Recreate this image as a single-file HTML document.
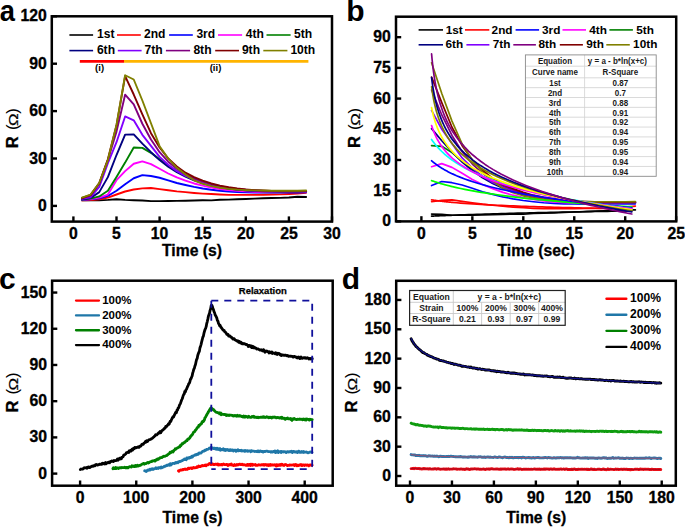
<!DOCTYPE html>
<html><head><meta charset="utf-8"><style>
html,body{margin:0;padding:0;background:#fff;width:685px;height:527px;overflow:hidden;}
svg{display:block;font-family:"Liberation Sans",sans-serif;}
</style></head><body>
<svg width="685" height="527" viewBox="0 0 685 527" font-family="Liberation Sans, sans-serif">
<rect width="685" height="527" fill="#fff"/>
<g>
<polyline points="82.02,200.37 90.64,200.37 99.26,200.21 107.88,199.9 116.5,199.26 125.12,199.9 133.74,200.21 142.36,200.53 150.98,201.16 159.6,201.16 168.22,201 176.84,200.84 185.46,200.69 194.08,200.53 202.7,200.21 211.32,200.37 219.94,199.74 228.56,199.58 237.18,199.26 245.8,198.95 254.42,198.63 263.04,198.32 271.66,198 280.28,197.84 288.9,197.53 297.52,196.74 306.14,197.05" fill="none" stroke="#000000" stroke-width="1.9" stroke-linejoin="round" stroke-linecap="round"/>
<polyline points="82.02,200.37 90.64,200.05 99.26,199.26 107.88,197.53 116.5,194.52 125.12,191.52 133.74,189.47 142.36,188.36 150.98,188.05 159.6,189.15 168.22,190.26 176.84,191.36 185.46,192.15 194.08,192.94 202.7,193.58 211.32,194.05 219.94,194.52 228.56,194.84 237.18,194.84 245.8,194.84 254.42,194.84 263.04,194.68 271.66,194.52 280.28,194.37 288.9,194.05 297.52,193.58 306.14,192.79" fill="none" stroke="#ff0000" stroke-width="1.9" stroke-linejoin="round" stroke-linecap="round"/>
<polyline points="82.02,200.05 90.64,199.26 99.26,198.32 107.88,195.95 116.5,190.73 125.12,184.25 133.74,178.25 142.36,175.09 150.98,176.04 159.6,177.78 168.22,180.3 176.84,182.99 185.46,185.04 194.08,186.94 202.7,188.52 211.32,189.78 219.94,190.73 228.56,191.52 237.18,192 245.8,192.31 254.42,192.47 263.04,192.63 271.66,192.63 280.28,192.63 288.9,192.47 297.52,192.47 306.14,192.31" fill="none" stroke="#0000ff" stroke-width="1.9" stroke-linejoin="round" stroke-linecap="round"/>
<polyline points="82.02,199.58 90.64,198.95 99.26,197.68 107.88,194.52 116.5,180.15 125.12,171.14 133.74,163.71 142.36,161.34 150.98,164.19 159.6,168.77 168.22,173.51 176.84,177.46 185.46,180.62 194.08,183.46 202.7,185.68 211.32,187.57 219.94,188.99 228.56,190.1 237.18,190.89 245.8,191.36 254.42,191.68 263.04,191.84 271.66,191.84 280.28,192 288.9,192 297.52,191.84 306.14,191.68" fill="none" stroke="#ff00ff" stroke-width="1.9" stroke-linejoin="round" stroke-linecap="round"/>
<polyline points="82.02,199.58 90.64,198.63 99.26,196.42 107.88,190.73 116.5,176.99 125.12,162.61 133.74,147.44 142.36,147.91 150.98,152.81 159.6,159.29 168.22,165.61 176.84,171.14 185.46,175.56 194.08,179.04 202.7,182.2 211.32,184.73 219.94,186.94 228.56,188.52 237.18,189.63 245.8,190.42 254.42,190.89 263.04,191.21 271.66,191.36 280.28,191.52 288.9,191.52 297.52,191.52 306.14,191.36" fill="none" stroke="#008000" stroke-width="1.9" stroke-linejoin="round" stroke-linecap="round"/>
<polyline points="82.02,199.26 90.64,198 99.26,192.15 107.88,177.14 116.5,155.02 125.12,134.64 133.74,134.33 142.36,143.65 150.98,152.18 159.6,160.08 168.22,166.72 176.84,172.25 185.46,176.67 194.08,180.3 202.7,183.15 211.32,185.52 219.94,187.26 228.56,188.52 237.18,189.47 245.8,190.26 254.42,190.73 263.04,191.05 271.66,191.36 280.28,191.52 288.9,191.52 297.52,191.52 306.14,191.36" fill="none" stroke="#000080" stroke-width="1.9" stroke-linejoin="round" stroke-linecap="round"/>
<polyline points="82.02,198.79 90.64,197.21 99.26,186.94 107.88,163.24 116.5,142.23 125.12,116.47 133.74,120.26 142.36,134.8 150.98,145.86 159.6,156.92 168.22,164.82 176.84,171.14 185.46,175.88 194.08,179.36 202.7,182.2 211.32,184.57 219.94,186.47 228.56,187.89 237.18,189.15 245.8,189.94 254.42,190.57 263.04,191.05 271.66,191.21 280.28,191.36 288.9,191.36 297.52,191.36 306.14,191.21" fill="none" stroke="#8000ff" stroke-width="1.9" stroke-linejoin="round" stroke-linecap="round"/>
<polyline points="82.02,198.32 90.64,195.63 99.26,183.78 107.88,160.08 116.5,131.64 125.12,94.67 133.74,104.46 142.36,123.74 150.98,139.54 159.6,152.18 168.22,161.66 176.84,168.77 185.46,174.3 194.08,178.25 202.7,181.41 211.32,184.1 219.94,186.15 228.56,187.73 237.18,188.99 245.8,189.78 254.42,190.42 263.04,190.89 271.66,191.05 280.28,191.21 288.9,191.21 297.52,191.21 306.14,191.05" fill="none" stroke="#800080" stroke-width="1.9" stroke-linejoin="round" stroke-linecap="round"/>
<polyline points="82.02,198 90.64,194.84 99.26,182.99 107.88,159.29 116.5,125.32 125.12,76.18 133.74,94.51 142.36,114.26 150.98,133.22 159.6,147.44 168.22,158.5 176.84,166.4 185.46,172.72 194.08,177.14 202.7,180.62 211.32,183.46 219.94,185.68 228.56,187.26 237.18,188.52 245.8,189.47 254.42,190.1 263.04,190.57 271.66,190.89 280.28,191.05 288.9,191.05 297.52,191.05 306.14,190.89" fill="none" stroke="#800000" stroke-width="1.9" stroke-linejoin="round" stroke-linecap="round"/>
<polyline points="82.02,197.68 90.64,194.52 99.26,182.99 107.88,160.08 116.5,125 125.12,75.23 133.74,79.5 142.36,100.51 150.98,123.27 159.6,146.18 168.22,158.66 176.84,167.82 185.46,174.62 194.08,180.3 202.7,183.78 211.32,186.15 219.94,187.73 228.56,188.84 237.18,189.63 245.8,190.1 254.42,190.42 263.04,190.57 271.66,190.73 280.28,190.73 288.9,190.73 297.52,190.73 306.14,190.57" fill="none" stroke="#808000" stroke-width="1.9" stroke-linejoin="round" stroke-linecap="round"/>
</g>
<line x1="73.4" y1="221.6" x2="73.4" y2="216.4" stroke="#000" stroke-width="2.4"/>
<text x="73.4" y="238.8" font-size="16.5" text-anchor="middle" font-weight="bold" stroke="#000" stroke-width="0.35" textLength="8.76" lengthAdjust="spacingAndGlyphs">0</text>
<line x1="116.5" y1="221.6" x2="116.5" y2="216.4" stroke="#000" stroke-width="2.4"/>
<text x="116.5" y="238.8" font-size="16.5" text-anchor="middle" font-weight="bold" stroke="#000" stroke-width="0.35" textLength="8.76" lengthAdjust="spacingAndGlyphs">5</text>
<line x1="159.6" y1="221.6" x2="159.6" y2="216.4" stroke="#000" stroke-width="2.4"/>
<text x="159.6" y="238.8" font-size="16.5" text-anchor="middle" font-weight="bold" stroke="#000" stroke-width="0.35" textLength="17.53" lengthAdjust="spacingAndGlyphs">10</text>
<line x1="202.7" y1="221.6" x2="202.7" y2="216.4" stroke="#000" stroke-width="2.4"/>
<text x="202.7" y="238.8" font-size="16.5" text-anchor="middle" font-weight="bold" stroke="#000" stroke-width="0.35" textLength="17.53" lengthAdjust="spacingAndGlyphs">15</text>
<line x1="245.8" y1="221.6" x2="245.8" y2="216.4" stroke="#000" stroke-width="2.4"/>
<text x="245.8" y="238.8" font-size="16.5" text-anchor="middle" font-weight="bold" stroke="#000" stroke-width="0.35" textLength="17.53" lengthAdjust="spacingAndGlyphs">20</text>
<line x1="288.9" y1="221.6" x2="288.9" y2="216.4" stroke="#000" stroke-width="2.4"/>
<text x="288.9" y="238.8" font-size="16.5" text-anchor="middle" font-weight="bold" stroke="#000" stroke-width="0.35" textLength="17.53" lengthAdjust="spacingAndGlyphs">25</text>
<line x1="332" y1="221.6" x2="332" y2="216.4" stroke="#000" stroke-width="2.4"/>
<text x="332" y="238.8" font-size="16.5" text-anchor="middle" font-weight="bold" stroke="#000" stroke-width="0.35" textLength="17.53" lengthAdjust="spacingAndGlyphs">30</text>
<line x1="51.8" y1="205.9" x2="57" y2="205.9" stroke="#000" stroke-width="2.4"/>
<text x="46.7" y="210.9" font-size="16.5" text-anchor="end" font-weight="bold" stroke="#000" stroke-width="0.35" textLength="8.76" lengthAdjust="spacingAndGlyphs">0</text>
<line x1="51.8" y1="158.5" x2="57" y2="158.5" stroke="#000" stroke-width="2.4"/>
<text x="46.7" y="163.5" font-size="16.5" text-anchor="end" font-weight="bold" stroke="#000" stroke-width="0.35" textLength="17.53" lengthAdjust="spacingAndGlyphs">30</text>
<line x1="51.8" y1="111.1" x2="57" y2="111.1" stroke="#000" stroke-width="2.4"/>
<text x="46.7" y="116.1" font-size="16.5" text-anchor="end" font-weight="bold" stroke="#000" stroke-width="0.35" textLength="17.53" lengthAdjust="spacingAndGlyphs">60</text>
<line x1="51.8" y1="63.7" x2="57" y2="63.7" stroke="#000" stroke-width="2.4"/>
<text x="46.7" y="68.7" font-size="16.5" text-anchor="end" font-weight="bold" stroke="#000" stroke-width="0.35" textLength="17.53" lengthAdjust="spacingAndGlyphs">90</text>
<line x1="51.8" y1="16.3" x2="57" y2="16.3" stroke="#000" stroke-width="2.4"/>
<text x="46.7" y="21.3" font-size="16.5" text-anchor="end" font-weight="bold" stroke="#000" stroke-width="0.35" textLength="26.29" lengthAdjust="spacingAndGlyphs">120</text>
<rect x="51.8" y="16.3" width="280.2" height="205.3" fill="none" stroke="#000" stroke-width="2.5"/>
<text x="192" y="256" font-size="15.7" text-anchor="middle" font-weight="bold" fill="#000" stroke="#000" stroke-width="0.3">Time (s)</text>
<text transform="translate(18.1,147) rotate(-90)" font-size="16.5" x="-1.2" y="0" font-weight="bold" stroke="#000" stroke-width="0.3">R</text>
<text transform="translate(18.1,147) rotate(-90)" font-size="16.5" x="16.9" y="0">(</text>
<text transform="translate(18.1,147) rotate(-90)" font-size="16.5" x="33.3" y="0">)</text>
<text transform="translate(18.1,147) rotate(-90) translate(27.3,0) scale(1.27,1)" font-size="13.3" text-anchor="middle" stroke="#000" stroke-width="0.2">&#937;</text>
<line x1="69.4" y1="35" x2="93.1" y2="35" stroke="#000000" stroke-width="1.6"/>
<text x="97.1" y="38.2" font-size="12.1" text-anchor="start" font-weight="bold" fill="#000">1st</text>
<line x1="117" y1="35" x2="140.8" y2="35" stroke="#ff0000" stroke-width="1.6"/>
<text x="144" y="38.2" font-size="12.1" text-anchor="start" font-weight="bold" fill="#000">2nd</text>
<line x1="169.1" y1="35" x2="192.8" y2="35" stroke="#0000ff" stroke-width="1.6"/>
<text x="196.4" y="38.2" font-size="12.1" text-anchor="start" font-weight="bold" fill="#000">3rd</text>
<line x1="218" y1="35" x2="242.1" y2="35" stroke="#ff00ff" stroke-width="1.6"/>
<text x="245.7" y="38.2" font-size="12.1" text-anchor="start" font-weight="bold" fill="#000">4th</text>
<line x1="266.5" y1="35" x2="290.6" y2="35" stroke="#008000" stroke-width="1.6"/>
<text x="294.1" y="38.2" font-size="12.1" text-anchor="start" font-weight="bold" fill="#000">5th</text>
<line x1="69.4" y1="50.6" x2="93.1" y2="50.6" stroke="#000080" stroke-width="1.6"/>
<text x="96.9" y="54.4" font-size="12.1" text-anchor="start" font-weight="bold" fill="#000">6th</text>
<line x1="117.8" y1="50.6" x2="141.6" y2="50.6" stroke="#8000ff" stroke-width="1.6"/>
<text x="144.6" y="54.4" font-size="12.1" text-anchor="start" font-weight="bold" fill="#000">7th</text>
<line x1="165.9" y1="50.6" x2="190.1" y2="50.6" stroke="#800080" stroke-width="1.6"/>
<text x="193.4" y="54.4" font-size="12.1" text-anchor="start" font-weight="bold" fill="#000">8th</text>
<line x1="215.2" y1="50.6" x2="239" y2="50.6" stroke="#800000" stroke-width="1.6"/>
<text x="241.9" y="54.4" font-size="12.1" text-anchor="start" font-weight="bold" fill="#000">9th</text>
<line x1="263.3" y1="50.6" x2="287.4" y2="50.6" stroke="#808000" stroke-width="1.6"/>
<text x="290.4" y="54.4" font-size="12.1" text-anchor="start" font-weight="bold" fill="#000">10th</text>
<line x1="79.8" y1="61.3" x2="124" y2="61.3" stroke="#ff0000" stroke-width="2.8"/>
<line x1="124" y1="61.3" x2="308.4" y2="61.3" stroke="#ffb400" stroke-width="2.8"/>
<text x="99.6" y="70.6" font-size="9.5" text-anchor="middle" font-weight="bold" fill="#000">(i)</text>
<text x="215.5" y="70.6" font-size="9.5" text-anchor="middle" font-weight="bold" fill="#000">(ii)</text>
<g>
<polyline points="431.59,214.03 441.78,214.44 451.97,215.26 462.16,215.26 472.35,215.05 482.54,214.85 492.73,214.64 502.92,214.44 513.11,214.03 523.3,214.24 533.49,213.42 543.68,213.21 553.87,212.8 564.06,212.39 574.25,211.98 584.44,211.57 594.63,211.16 604.82,210.96 615.01,210.55 625.2,209.53 635.39,209.94" fill="none" stroke="#000000" stroke-width="1.7" stroke-linejoin="round" stroke-linecap="round"/>
<polyline points="431.59,201.75 441.78,200.32 451.97,199.91 462.16,201.34 472.35,202.77 482.54,204.21 492.73,205.23 502.92,206.25 513.11,207.07 523.3,207.69 533.49,208.3 543.68,208.71 553.87,208.71 564.06,208.71 574.25,208.71 584.44,208.5 594.63,208.3 604.82,208.09 615.01,207.69 625.2,207.07 635.39,206.05" fill="none" stroke="#ff0000" stroke-width="1.7" stroke-linejoin="round" stroke-linecap="round"/>
<polyline points="431.59,185.58 441.78,181.48 451.97,182.71 462.16,184.96 472.35,188.24 482.54,191.72 492.73,194.38 502.92,196.84 513.11,198.88 523.3,200.52 533.49,201.75 543.68,202.77 553.87,203.39 564.06,203.8 574.25,204 584.44,204.21 594.63,204.21 604.82,204.21 615.01,204 625.2,204 635.39,203.8" fill="none" stroke="#0000ff" stroke-width="1.7" stroke-linejoin="round" stroke-linecap="round"/>
<polyline points="431.59,166.75 441.78,163.67 451.97,167.36 462.16,173.3 472.35,179.44 482.54,184.55 492.73,188.65 502.92,192.33 513.11,195.2 523.3,197.65 533.49,199.5 543.68,200.93 553.87,201.95 564.06,202.57 574.25,202.98 584.44,203.18 594.63,203.18 604.82,203.39 615.01,203.39 625.2,203.18 635.39,202.98" fill="none" stroke="#ff00ff" stroke-width="1.7" stroke-linejoin="round" stroke-linecap="round"/>
<polyline points="431.59,145.66 441.78,146.28 451.97,152.62 462.16,161.01 472.35,169.2 482.54,176.37 492.73,182.1 502.92,186.6 513.11,190.69 523.3,193.97 533.49,196.84 543.68,198.88 553.87,200.32 564.06,201.34 574.25,201.95 584.44,202.36 594.63,202.57 604.82,202.77 615.01,202.77 625.2,202.77 635.39,202.57" fill="none" stroke="#008000" stroke-width="1.7" stroke-linejoin="round" stroke-linecap="round"/>
<polyline points="431.59,128.67 441.78,140.75 451.97,151.8 462.16,162.04 472.35,170.63 482.54,177.8 492.73,183.53 502.92,188.24 513.11,191.92 523.3,194.99 533.49,197.25 543.68,198.88 553.87,200.11 564.06,201.13 574.25,201.75 584.44,202.16 594.63,202.57 604.82,202.77 615.01,202.77 625.2,202.77 635.39,202.57" fill="none" stroke="#000080" stroke-width="1.7" stroke-linejoin="round" stroke-linecap="round"/>
<polyline points="431.59,110.45 441.78,129.28 451.97,143.61 462.16,157.94 472.35,168.18 482.54,176.37 492.73,182.51 502.92,187.01 513.11,190.69 523.3,193.77 533.49,196.22 543.68,198.06 553.87,199.7 564.06,200.73 574.25,201.54 584.44,202.16 594.63,202.36 604.82,202.57 615.01,202.57 625.2,202.57 635.39,202.36" fill="none" stroke="#8000ff" stroke-width="1.7" stroke-linejoin="round" stroke-linecap="round"/>
<polyline points="431.59,89.98 441.78,114.96 451.97,135.43 462.16,151.8 472.35,164.08 482.54,173.3 492.73,180.46 502.92,185.58 513.11,189.67 523.3,193.15 533.49,195.81 543.68,197.86 553.87,199.5 564.06,200.52 574.25,201.34 584.44,201.95 594.63,202.16 604.82,202.36 615.01,202.36 625.2,202.36 635.39,202.16" fill="none" stroke="#800080" stroke-width="1.7" stroke-linejoin="round" stroke-linecap="round"/>
<polyline points="431.59,77.09 441.78,102.67 451.97,127.24 462.16,145.66 472.35,159.99 482.54,170.22 492.73,178.41 502.92,184.14 513.11,188.65 523.3,192.33 533.49,195.2 543.68,197.25 553.87,198.88 564.06,200.11 574.25,200.93 584.44,201.54 594.63,201.95 604.82,202.16 615.01,202.16 625.2,202.16 635.39,201.95" fill="none" stroke="#800000" stroke-width="1.7" stroke-linejoin="round" stroke-linecap="round"/>
<polyline points="431.59,62.76 441.78,93.46 451.97,121.1 462.16,144.02 472.35,160.19 482.54,172.07 492.73,180.87 502.92,188.24 513.11,192.74 523.3,195.81 533.49,197.86 543.68,199.29 553.87,200.32 564.06,200.93 574.25,201.34 584.44,201.54 594.63,201.75 604.82,201.75 615.01,201.75 625.2,201.75 635.39,201.54" fill="none" stroke="#808000" stroke-width="1.7" stroke-linejoin="round" stroke-linecap="round"/>
<polyline points="431.59,216.13 432.1,216.11 432.61,216.08 433.12,216.06 433.63,216.04 434.14,216.01 434.65,215.99 435.16,215.97 435.67,215.95 436.18,215.92 436.69,215.9 437.19,215.88 437.7,215.86 438.21,215.84 438.72,215.81 439.23,215.79 439.74,215.77 440.25,215.75 440.76,215.73 441.27,215.7 441.78,215.68 442.29,215.66 442.8,215.64 443.31,215.62 443.82,215.6 444.33,215.58 444.84,215.56 445.35,215.53 445.86,215.51 446.37,215.49 446.87,215.47 447.38,215.45 447.89,215.43 448.4,215.41 448.91,215.39 449.42,215.37 449.93,215.35 450.44,215.33 450.95,215.31 451.46,215.29 451.97,215.27 452.48,215.25 456.56,215.1 460.63,214.95 464.71,214.8 468.78,214.66 472.86,214.52 476.94,214.38 481.01,214.25 485.09,214.12 489.16,214 493.24,213.88 497.32,213.76 501.39,213.64 505.47,213.53 509.54,213.41 513.62,213.31 517.7,213.2 521.77,213.09 525.85,212.99 529.92,212.89 534,212.79 538.08,212.7 542.15,212.6 546.23,212.51 550.3,212.42 554.38,212.33 558.46,212.24 562.53,212.15 566.61,212.06 570.68,211.98 574.76,211.9 578.84,211.82 582.91,211.74 586.99,211.66 591.06,211.58 595.14,211.5 599.22,211.43 603.29,211.35 607.37,211.28 611.44,211.21 615.52,211.14 619.6,211.07 623.67,211 627.75,210.93 631.82,210.86" fill="none" stroke="#000000" stroke-width="1.7" stroke-linejoin="round" stroke-linecap="round"/>
<polyline points="431.59,199.79 432.1,199.88 432.61,199.97 433.12,200.05 433.63,200.13 434.14,200.22 434.65,200.29 435.16,200.37 435.67,200.45 436.18,200.52 436.69,200.6 437.19,200.67 437.7,200.74 438.21,200.81 438.72,200.88 439.23,200.95 439.74,201.01 440.25,201.08 440.76,201.14 441.27,201.21 441.78,201.27 442.29,201.33 442.8,201.39 443.31,201.45 443.82,201.51 444.33,201.57 444.84,201.62 445.35,201.68 445.86,201.74 446.37,201.79 446.87,201.84 447.38,201.9 447.89,201.95 448.4,202 448.91,202.05 449.42,202.1 449.93,202.15 450.44,202.2 450.95,202.25 451.46,202.3 451.97,202.35 452.48,202.4 456.56,202.76 460.63,203.09 464.71,203.39 468.78,203.67 472.86,203.94 476.94,204.19 481.01,204.43 485.09,204.65 489.16,204.86 493.24,205.06 497.32,205.25 501.39,205.43 505.47,205.61 509.54,205.77 513.62,205.94 517.7,206.09 521.77,206.24 525.85,206.38 529.92,206.52 534,206.66 538.08,206.79 542.15,206.91 546.23,207.04 550.3,207.15 554.38,207.27 558.46,207.38 562.53,207.49 566.61,207.6 570.68,207.7 574.76,207.8 578.84,207.9 582.91,208 586.99,208.09 591.06,208.18 595.14,208.27 599.22,208.36 603.29,208.45 607.37,208.53 611.44,208.61 615.52,208.7 619.6,208.78 623.67,208.85 627.75,208.93 631.82,209" fill="none" stroke="#ff0000" stroke-width="1.7" stroke-linejoin="round" stroke-linecap="round"/>
<polyline points="431.59,180.59 432.1,180.77 432.61,180.95 433.12,181.13 433.63,181.3 434.14,181.48 434.65,181.65 435.16,181.82 435.67,181.99 436.18,182.15 436.69,182.32 437.19,182.48 437.7,182.64 438.21,182.8 438.72,182.95 439.23,183.11 439.74,183.26 440.25,183.42 440.76,183.57 441.27,183.72 441.78,183.86 442.29,184.01 442.8,184.16 443.31,184.3 443.82,184.44 444.33,184.58 444.84,184.72 445.35,184.86 445.86,185 446.37,185.13 446.87,185.27 447.38,185.4 447.89,185.53 448.4,185.66 448.91,185.79 449.42,185.92 449.93,186.05 450.44,186.18 450.95,186.3 451.46,186.43 451.97,186.55 452.48,186.67 456.56,187.62 460.63,188.51 464.71,189.34 468.78,190.14 472.86,190.89 476.94,191.61 481.01,192.3 485.09,192.95 489.16,193.58 493.24,194.18 497.32,194.76 501.39,195.32 505.47,195.85 509.54,196.37 513.62,196.87 517.7,197.36 521.77,197.83 525.85,198.29 529.92,198.73 534,199.16 538.08,199.57 542.15,199.98 546.23,200.38 550.3,200.76 554.38,201.14 558.46,201.5 562.53,201.86 566.61,202.21 570.68,202.55 574.76,202.88 578.84,203.21 582.91,203.53 586.99,203.84 591.06,204.15 595.14,204.45 599.22,204.74 603.29,205.03 607.37,205.31 611.44,205.59 615.52,205.87 619.6,206.13 623.67,206.4 627.75,206.66 631.82,206.91" fill="none" stroke="#00ff00" stroke-width="1.7" stroke-linejoin="round" stroke-linecap="round"/>
<polyline points="431.59,160.77 432.1,161.21 432.61,161.64 433.12,162.06 433.63,162.47 434.14,162.88 434.65,163.28 435.16,163.67 435.67,164.05 436.18,164.43 436.69,164.8 437.19,165.16 437.7,165.52 438.21,165.87 438.72,166.21 439.23,166.55 439.74,166.89 440.25,167.22 440.76,167.54 441.27,167.86 441.78,168.18 442.29,168.49 442.8,168.79 443.31,169.09 443.82,169.39 444.33,169.68 444.84,169.97 445.35,170.26 445.86,170.54 446.37,170.82 446.87,171.09 447.38,171.36 447.89,171.63 448.4,171.89 448.91,172.15 449.42,172.41 449.93,172.66 450.44,172.91 450.95,173.16 451.46,173.41 451.97,173.65 452.48,173.89 456.56,175.72 460.63,177.4 464.71,178.95 468.78,180.4 472.86,181.76 476.94,183.03 481.01,184.24 485.09,185.37 489.16,186.45 493.24,187.48 497.32,188.46 501.39,189.4 505.47,190.29 509.54,191.15 513.62,191.98 517.7,192.77 521.77,193.54 525.85,194.28 529.92,194.99 534,195.68 538.08,196.35 542.15,197 546.23,197.63 550.3,198.24 554.38,198.84 558.46,199.41 562.53,199.98 566.61,200.53 570.68,201.06 574.76,201.58 578.84,202.09 582.91,202.58 586.99,203.07 591.06,203.54 595.14,204.01 599.22,204.46 603.29,204.9 607.37,205.34 611.44,205.77 615.52,206.18 619.6,206.59 623.67,207 627.75,207.39 631.82,207.78" fill="none" stroke="#0000ff" stroke-width="1.7" stroke-linejoin="round" stroke-linecap="round"/>
<polyline points="431.59,139.49 432.1,140.22 432.61,140.94 433.12,141.65 433.63,142.33 434.14,143 434.65,143.65 435.16,144.29 435.67,144.92 436.18,145.53 436.69,146.13 437.19,146.71 437.7,147.29 438.21,147.85 438.72,148.4 439.23,148.95 439.74,149.48 440.25,150 440.76,150.51 441.27,151.02 441.78,151.51 442.29,152 442.8,152.48 443.31,152.95 443.82,153.41 444.33,153.87 444.84,154.32 445.35,154.76 445.86,155.19 446.37,155.62 446.87,156.04 447.38,156.46 447.89,156.87 448.4,157.27 448.91,157.67 449.42,158.07 449.93,158.45 450.44,158.84 450.95,159.21 451.46,159.59 451.97,159.96 452.48,160.32 456.56,163.07 460.63,165.58 464.71,167.89 468.78,170.02 472.86,172.01 476.94,173.87 481.01,175.61 485.09,177.26 489.16,178.81 493.24,180.29 497.32,181.69 501.39,183.03 505.47,184.31 509.54,185.53 513.62,186.7 517.7,187.83 521.77,188.91 525.85,189.96 529.92,190.97 534,191.94 538.08,192.88 542.15,193.79 546.23,194.68 550.3,195.53 554.38,196.37 558.46,197.18 562.53,197.96 566.61,198.73 570.68,199.47 574.76,200.2 578.84,200.91 582.91,201.6 586.99,202.27 591.06,202.93 595.14,203.58 599.22,204.21 603.29,204.83 607.37,205.43 611.44,206.02 615.52,206.6 619.6,207.17 623.67,207.73 627.75,208.27 631.82,208.81" fill="none" stroke="#00ffff" stroke-width="1.7" stroke-linejoin="round" stroke-linecap="round"/>
<polyline points="431.59,125.5 432.1,127.07 432.61,128.55 433.12,129.95 433.63,131.28 434.14,132.54 434.65,133.74 435.16,134.89 435.67,135.99 436.18,137.05 436.69,138.06 437.19,139.04 437.7,139.98 438.21,140.88 438.72,141.76 439.23,142.6 439.74,143.42 440.25,144.21 440.76,144.98 441.27,145.73 441.78,146.46 442.29,147.16 442.8,147.85 443.31,148.52 443.82,149.17 444.33,149.81 444.84,150.43 445.35,151.04 445.86,151.63 446.37,152.21 446.87,152.77 447.38,153.33 447.89,153.87 448.4,154.4 448.91,154.92 449.42,155.43 449.93,155.93 450.44,156.42 450.95,156.9 451.46,157.37 451.97,157.84 452.48,158.29 456.56,161.67 460.63,164.66 464.71,167.33 468.78,169.75 472.86,171.96 476.94,174 481.01,175.88 485.09,177.64 489.16,179.29 493.24,180.83 497.32,182.29 501.39,183.67 505.47,184.98 509.54,186.22 513.62,187.41 517.7,188.54 521.77,189.63 525.85,190.67 529.92,191.68 534,192.64 538.08,193.57 542.15,194.47 546.23,195.33 550.3,196.17 554.38,196.98 558.46,197.77 562.53,198.53 566.61,199.27 570.68,199.99 574.76,200.69 578.84,201.38 582.91,202.04 586.99,202.69 591.06,203.32 595.14,203.94 599.22,204.54 603.29,205.13 607.37,205.7 611.44,206.27 615.52,206.82 619.6,207.35 623.67,207.88 627.75,208.4 631.82,208.91" fill="none" stroke="#ff00ff" stroke-width="1.7" stroke-linejoin="round" stroke-linecap="round"/>
<polyline points="431.59,107.65 432.1,110.13 432.61,112.41 433.12,114.53 433.63,116.49 434.14,118.33 434.65,120.06 435.16,121.68 435.67,123.22 436.18,124.68 436.69,126.06 437.19,127.39 437.7,128.65 438.21,129.86 438.72,131.02 439.23,132.13 439.74,133.2 440.25,134.23 440.76,135.23 441.27,136.19 441.78,137.12 442.29,138.02 442.8,138.89 443.31,139.74 443.82,140.56 444.33,141.36 444.84,142.14 445.35,142.89 445.86,143.63 446.37,144.35 446.87,145.05 447.38,145.73 447.89,146.4 448.4,147.05 448.91,147.68 449.42,148.31 449.93,148.92 450.44,149.51 450.95,150.1 451.46,150.67 451.97,151.23 452.48,151.78 456.56,155.83 460.63,159.37 464.71,162.52 468.78,165.35 472.86,167.93 476.94,170.28 481.01,172.46 485.09,174.48 489.16,176.37 493.24,178.14 497.32,179.8 501.39,181.37 505.47,182.86 509.54,184.27 513.62,185.62 517.7,186.91 521.77,188.14 525.85,189.31 529.92,190.44 534,191.53 538.08,192.58 542.15,193.59 546.23,194.56 550.3,195.51 554.38,196.42 558.46,197.3 562.53,198.16 566.61,198.99 570.68,199.8 574.76,200.58 578.84,201.35 582.91,202.09 586.99,202.81 591.06,203.52 595.14,204.21 599.22,204.88 603.29,205.54 607.37,206.18 611.44,206.81 615.52,207.43 619.6,208.03 623.67,208.62 627.75,209.19 631.82,209.76" fill="none" stroke="#ffff00" stroke-width="1.7" stroke-linejoin="round" stroke-linecap="round"/>
<polyline points="431.59,86.72 432.1,90.42 432.61,93.73 433.12,96.73 433.63,99.47 434.14,101.99 434.65,104.33 435.16,106.51 435.67,108.55 436.18,110.46 436.69,112.27 437.19,113.98 437.7,115.6 438.21,117.15 438.72,118.62 439.23,120.03 439.74,121.38 440.25,122.67 440.76,123.91 441.27,125.11 441.78,126.26 442.29,127.38 442.8,128.45 443.31,129.49 443.82,130.5 444.33,131.48 444.84,132.43 445.35,133.35 445.86,134.24 446.37,135.11 446.87,135.96 447.38,136.78 447.89,137.59 448.4,138.37 448.91,139.14 449.42,139.88 449.93,140.61 450.44,141.33 450.95,142.03 451.46,142.71 451.97,143.38 452.48,144.03 456.56,148.84 460.63,153.02 464.71,156.71 468.78,160.02 472.86,163.01 476.94,165.75 481.01,168.28 485.09,170.61 489.16,172.79 493.24,174.83 497.32,176.74 501.39,178.55 505.47,180.26 509.54,181.88 513.62,183.43 517.7,184.9 521.77,186.31 525.85,187.66 529.92,188.95 534,190.19 538.08,191.39 542.15,192.54 546.23,193.66 550.3,194.73 554.38,195.77 558.46,196.78 562.53,197.75 566.61,198.7 570.68,199.62 574.76,200.52 578.84,201.39 582.91,202.23 586.99,203.06 591.06,203.86 595.14,204.65 599.22,205.41 603.29,206.16 607.37,206.89 611.44,207.6 615.52,208.3 619.6,208.98 623.67,209.65 627.75,210.31 631.82,210.95" fill="none" stroke="#808000" stroke-width="1.7" stroke-linejoin="round" stroke-linecap="round"/>
<polyline points="431.59,77.7 432.1,81.69 432.61,85.27 433.12,88.51 433.63,91.47 434.14,94.2 434.65,96.73 435.16,99.08 435.67,101.29 436.18,103.36 436.69,105.31 437.19,107.16 437.7,108.91 438.21,110.58 438.72,112.18 439.23,113.7 439.74,115.15 440.25,116.55 440.76,117.9 441.27,119.19 441.78,120.44 442.29,121.64 442.8,122.8 443.31,123.93 443.82,125.01 444.33,126.07 444.84,127.09 445.35,128.09 445.86,129.05 446.37,130 446.87,130.91 447.38,131.8 447.89,132.67 448.4,133.52 448.91,134.35 449.42,135.15 449.93,135.94 450.44,136.71 450.95,137.47 451.46,138.21 451.97,138.93 452.48,139.64 456.56,144.83 460.63,149.35 464.71,153.34 468.78,156.91 472.86,160.15 476.94,163.11 481.01,165.84 485.09,168.36 489.16,170.72 493.24,172.92 497.32,174.99 501.39,176.94 505.47,178.79 509.54,180.54 513.62,182.21 517.7,183.8 521.77,185.33 525.85,186.78 529.92,188.18 534,189.52 538.08,190.82 542.15,192.06 546.23,193.27 550.3,194.43 554.38,195.55 558.46,196.64 562.53,197.7 566.61,198.72 570.68,199.71 574.76,200.68 578.84,201.62 582.91,202.54 586.99,203.43 591.06,204.3 595.14,205.14 599.22,205.97 603.29,206.78 607.37,207.57 611.44,208.34 615.52,209.09 619.6,209.83 623.67,210.55 627.75,211.26 631.82,211.96" fill="none" stroke="#000080" stroke-width="1.7" stroke-linejoin="round" stroke-linecap="round"/>
<polyline points="431.59,53.96 432.1,59.52 432.61,64.39 433.12,68.72 433.63,72.61 434.14,76.15 434.65,79.39 435.16,82.38 435.67,85.16 436.18,87.75 436.69,90.18 437.19,92.47 437.7,94.63 438.21,96.68 438.72,98.62 439.23,100.47 439.74,102.24 440.25,103.93 440.76,105.55 441.27,107.1 441.78,108.6 442.29,110.04 442.8,111.42 443.31,112.76 443.82,114.06 444.33,115.31 444.84,116.53 445.35,117.71 445.86,118.85 446.37,119.96 446.87,121.04 447.38,122.09 447.89,123.11 448.4,124.11 448.91,125.08 449.42,126.03 449.93,126.95 450.44,127.86 450.95,128.74 451.46,129.6 451.97,130.45 452.48,131.27 456.56,137.32 460.63,142.55 464.71,147.16 468.78,151.28 472.86,155.01 476.94,158.41 481.01,161.53 485.09,164.43 489.16,167.12 493.24,169.63 497.32,172 501.39,174.23 505.47,176.33 509.54,178.33 513.62,180.24 517.7,182.05 521.77,183.78 525.85,185.44 529.92,187.03 534,188.55 538.08,190.02 542.15,191.44 546.23,192.81 550.3,194.13 554.38,195.4 558.46,196.64 562.53,197.84 566.61,199 570.68,200.13 574.76,201.22 578.84,202.29 582.91,203.33 586.99,204.34 591.06,205.32 595.14,206.28 599.22,207.22 603.29,208.14 607.37,209.03 611.44,209.9 615.52,210.76 619.6,211.6 623.67,212.41 627.75,213.22 631.82,214" fill="none" stroke="#800080" stroke-width="1.7" stroke-linejoin="round" stroke-linecap="round"/>
</g>
<line x1="421.4" y1="221.4" x2="421.4" y2="216.2" stroke="#000" stroke-width="2.4"/>
<text x="421.4" y="238.8" font-size="16.5" text-anchor="middle" font-weight="bold" stroke="#000" stroke-width="0.35" textLength="8.76" lengthAdjust="spacingAndGlyphs">0</text>
<line x1="472.35" y1="221.4" x2="472.35" y2="216.2" stroke="#000" stroke-width="2.4"/>
<text x="472.35" y="238.8" font-size="16.5" text-anchor="middle" font-weight="bold" stroke="#000" stroke-width="0.35" textLength="8.76" lengthAdjust="spacingAndGlyphs">5</text>
<line x1="523.3" y1="221.4" x2="523.3" y2="216.2" stroke="#000" stroke-width="2.4"/>
<text x="523.3" y="238.8" font-size="16.5" text-anchor="middle" font-weight="bold" stroke="#000" stroke-width="0.35" textLength="17.53" lengthAdjust="spacingAndGlyphs">10</text>
<line x1="574.25" y1="221.4" x2="574.25" y2="216.2" stroke="#000" stroke-width="2.4"/>
<text x="574.25" y="238.8" font-size="16.5" text-anchor="middle" font-weight="bold" stroke="#000" stroke-width="0.35" textLength="17.53" lengthAdjust="spacingAndGlyphs">15</text>
<line x1="625.2" y1="221.4" x2="625.2" y2="216.2" stroke="#000" stroke-width="2.4"/>
<text x="625.2" y="238.8" font-size="16.5" text-anchor="middle" font-weight="bold" stroke="#000" stroke-width="0.35" textLength="17.53" lengthAdjust="spacingAndGlyphs">20</text>
<line x1="676.15" y1="221.4" x2="676.15" y2="216.2" stroke="#000" stroke-width="2.4"/>
<text x="676.15" y="238.8" font-size="16.5" text-anchor="middle" font-weight="bold" stroke="#000" stroke-width="0.35" textLength="17.53" lengthAdjust="spacingAndGlyphs">25</text>
<line x1="396" y1="221.4" x2="401.2" y2="221.4" stroke="#000" stroke-width="2.4"/>
<text x="390.9" y="226.4" font-size="16.5" text-anchor="end" font-weight="bold" stroke="#000" stroke-width="0.35" textLength="8.76" lengthAdjust="spacingAndGlyphs">0</text>
<line x1="396" y1="190.69" x2="401.2" y2="190.69" stroke="#000" stroke-width="2.4"/>
<text x="390.9" y="195.69" font-size="16.5" text-anchor="end" font-weight="bold" stroke="#000" stroke-width="0.35" textLength="17.53" lengthAdjust="spacingAndGlyphs">15</text>
<line x1="396" y1="159.99" x2="401.2" y2="159.99" stroke="#000" stroke-width="2.4"/>
<text x="390.9" y="164.99" font-size="16.5" text-anchor="end" font-weight="bold" stroke="#000" stroke-width="0.35" textLength="17.53" lengthAdjust="spacingAndGlyphs">30</text>
<line x1="396" y1="129.28" x2="401.2" y2="129.28" stroke="#000" stroke-width="2.4"/>
<text x="390.9" y="134.28" font-size="16.5" text-anchor="end" font-weight="bold" stroke="#000" stroke-width="0.35" textLength="17.53" lengthAdjust="spacingAndGlyphs">45</text>
<line x1="396" y1="98.58" x2="401.2" y2="98.58" stroke="#000" stroke-width="2.4"/>
<text x="390.9" y="103.58" font-size="16.5" text-anchor="end" font-weight="bold" stroke="#000" stroke-width="0.35" textLength="17.53" lengthAdjust="spacingAndGlyphs">60</text>
<line x1="396" y1="67.88" x2="401.2" y2="67.88" stroke="#000" stroke-width="2.4"/>
<text x="390.9" y="72.88" font-size="16.5" text-anchor="end" font-weight="bold" stroke="#000" stroke-width="0.35" textLength="17.53" lengthAdjust="spacingAndGlyphs">75</text>
<line x1="396" y1="37.17" x2="401.2" y2="37.17" stroke="#000" stroke-width="2.4"/>
<text x="390.9" y="42.17" font-size="16.5" text-anchor="end" font-weight="bold" stroke="#000" stroke-width="0.35" textLength="17.53" lengthAdjust="spacingAndGlyphs">90</text>
<rect x="396" y="16.7" width="280.2" height="204.7" fill="none" stroke="#000" stroke-width="2.5"/>
<text x="536.2" y="256" font-size="15.7" text-anchor="middle" font-weight="bold" fill="#000" stroke="#000" stroke-width="0.3">Time (sec)</text>
<text transform="translate(360.3,146.8) rotate(-90)" font-size="16.5" x="-1.2" y="0" font-weight="bold" stroke="#000" stroke-width="0.3">R</text>
<text transform="translate(360.3,146.8) rotate(-90)" font-size="16.5" x="16.9" y="0">(</text>
<text transform="translate(360.3,146.8) rotate(-90)" font-size="16.5" x="33.3" y="0">)</text>
<text transform="translate(360.3,146.8) rotate(-90) translate(27.3,0) scale(1.27,1)" font-size="13.3" text-anchor="middle" stroke="#000" stroke-width="0.2">&#937;</text>
<line x1="418.6" y1="29.9" x2="443" y2="29.9" stroke="#000000" stroke-width="1.6"/>
<text x="445.7" y="33.5" font-size="11.8" text-anchor="start" font-weight="bold" fill="#000">1st</text>
<line x1="465" y1="29.9" x2="489.3" y2="29.9" stroke="#ff0000" stroke-width="1.6"/>
<text x="491.6" y="33.5" font-size="11.8" text-anchor="start" font-weight="bold" fill="#000">2nd</text>
<line x1="515.6" y1="29.9" x2="539.1" y2="29.9" stroke="#0000ff" stroke-width="1.6"/>
<text x="542" y="33.5" font-size="11.8" text-anchor="start" font-weight="bold" fill="#000">3rd</text>
<line x1="562.5" y1="29.9" x2="586" y2="29.9" stroke="#ff00ff" stroke-width="1.6"/>
<text x="589.3" y="33.5" font-size="11.8" text-anchor="start" font-weight="bold" fill="#000">4th</text>
<line x1="609.4" y1="29.9" x2="632.9" y2="29.9" stroke="#008000" stroke-width="1.6"/>
<text x="636.2" y="33.5" font-size="11.8" text-anchor="start" font-weight="bold" fill="#000">5th</text>
<line x1="418.6" y1="44.8" x2="443" y2="44.8" stroke="#000080" stroke-width="1.6"/>
<text x="445.5" y="48.4" font-size="11.8" text-anchor="start" font-weight="bold" fill="#000">6th</text>
<line x1="466.4" y1="44.8" x2="489.4" y2="44.8" stroke="#8000ff" stroke-width="1.6"/>
<text x="492.8" y="48.4" font-size="11.8" text-anchor="start" font-weight="bold" fill="#000">7th</text>
<line x1="513.3" y1="44.8" x2="535.9" y2="44.8" stroke="#800080" stroke-width="1.6"/>
<text x="538.5" y="48.4" font-size="11.8" text-anchor="start" font-weight="bold" fill="#000">8th</text>
<line x1="559.8" y1="44.8" x2="582.9" y2="44.8" stroke="#800000" stroke-width="1.6"/>
<text x="586.2" y="48.4" font-size="11.8" text-anchor="start" font-weight="bold" fill="#000">9th</text>
<line x1="606.3" y1="44.8" x2="629.8" y2="44.8" stroke="#808000" stroke-width="1.6"/>
<text x="633.1" y="48.4" font-size="11.8" text-anchor="start" font-weight="bold" fill="#000">10th</text>
<rect x="525.4" y="54.9" width="130.80000000000007" height="121.4" fill="#fff" stroke="none"/>
<line x1="525.4" y1="66.2" x2="656.2" y2="66.2" stroke="#d0d0d0" stroke-width="0.8"/>
<line x1="525.4" y1="77.8" x2="656.2" y2="77.8" stroke="#d0d0d0" stroke-width="0.8"/>
<line x1="525.4" y1="87.65" x2="656.2" y2="87.65" stroke="#d0d0d0" stroke-width="0.8"/>
<line x1="525.4" y1="97.5" x2="656.2" y2="97.5" stroke="#d0d0d0" stroke-width="0.8"/>
<line x1="525.4" y1="107.35" x2="656.2" y2="107.35" stroke="#d0d0d0" stroke-width="0.8"/>
<line x1="525.4" y1="117.2" x2="656.2" y2="117.2" stroke="#d0d0d0" stroke-width="0.8"/>
<line x1="525.4" y1="127.05" x2="656.2" y2="127.05" stroke="#d0d0d0" stroke-width="0.8"/>
<line x1="525.4" y1="136.9" x2="656.2" y2="136.9" stroke="#d0d0d0" stroke-width="0.8"/>
<line x1="525.4" y1="146.75" x2="656.2" y2="146.75" stroke="#d0d0d0" stroke-width="0.8"/>
<line x1="525.4" y1="156.6" x2="656.2" y2="156.6" stroke="#d0d0d0" stroke-width="0.8"/>
<line x1="525.4" y1="166.45" x2="656.2" y2="166.45" stroke="#d0d0d0" stroke-width="0.8"/>
<line x1="584.6" y1="54.9" x2="584.6" y2="176.3" stroke="#d0d0d0" stroke-width="0.8"/>
<rect x="525.4" y="54.9" width="130.80000000000007" height="121.4" fill="none" stroke="#8a8a8a" stroke-width="0.9"/>
<text x="555" y="63.85" font-size="9" text-anchor="middle" font-weight="bold" fill="#1a1a1a" textLength="34.22" lengthAdjust="spacingAndGlyphs">Equation</text>
<text x="617.4" y="63.85" font-size="9" text-anchor="middle" font-weight="bold" fill="#1a1a1a" textLength="59.13" lengthAdjust="spacingAndGlyphs">y = a - b*ln(x+c)</text>
<text x="555" y="75.3" font-size="9" text-anchor="middle" font-weight="bold" fill="#1a1a1a" textLength="45.8" lengthAdjust="spacingAndGlyphs">Curve name</text>
<text x="620.4" y="75.3" font-size="9" text-anchor="middle" font-weight="bold" fill="#1a1a1a" textLength="35.56" lengthAdjust="spacingAndGlyphs">R-Square</text>
<text x="555" y="86.02" font-size="9" text-anchor="middle" font-weight="bold" fill="#1a1a1a" textLength="11.56" lengthAdjust="spacingAndGlyphs">1st</text>
<text x="620.4" y="86.02" font-size="9" text-anchor="middle" font-weight="bold" fill="#1a1a1a" textLength="15.57" lengthAdjust="spacingAndGlyphs">0.87</text>
<text x="555" y="95.87" font-size="9" text-anchor="middle" font-weight="bold" fill="#1a1a1a" textLength="14.22" lengthAdjust="spacingAndGlyphs">2nd</text>
<text x="620.4" y="95.87" font-size="9" text-anchor="middle" font-weight="bold" fill="#1a1a1a" textLength="11.12" lengthAdjust="spacingAndGlyphs">0.7</text>
<text x="555" y="105.72" font-size="9" text-anchor="middle" font-weight="bold" fill="#1a1a1a" textLength="12.45" lengthAdjust="spacingAndGlyphs">3rd</text>
<text x="620.4" y="105.72" font-size="9" text-anchor="middle" font-weight="bold" fill="#1a1a1a" textLength="15.57" lengthAdjust="spacingAndGlyphs">0.88</text>
<text x="555" y="115.57" font-size="9" text-anchor="middle" font-weight="bold" fill="#1a1a1a" textLength="12" lengthAdjust="spacingAndGlyphs">4th</text>
<text x="620.4" y="115.57" font-size="9" text-anchor="middle" font-weight="bold" fill="#1a1a1a" textLength="15.57" lengthAdjust="spacingAndGlyphs">0.91</text>
<text x="555" y="125.42" font-size="9" text-anchor="middle" font-weight="bold" fill="#1a1a1a" textLength="12" lengthAdjust="spacingAndGlyphs">5th</text>
<text x="620.4" y="125.42" font-size="9" text-anchor="middle" font-weight="bold" fill="#1a1a1a" textLength="15.57" lengthAdjust="spacingAndGlyphs">0.92</text>
<text x="555" y="135.28" font-size="9" text-anchor="middle" font-weight="bold" fill="#1a1a1a" textLength="12" lengthAdjust="spacingAndGlyphs">6th</text>
<text x="620.4" y="135.28" font-size="9" text-anchor="middle" font-weight="bold" fill="#1a1a1a" textLength="15.57" lengthAdjust="spacingAndGlyphs">0.94</text>
<text x="555" y="145.12" font-size="9" text-anchor="middle" font-weight="bold" fill="#1a1a1a" textLength="12" lengthAdjust="spacingAndGlyphs">7th</text>
<text x="620.4" y="145.12" font-size="9" text-anchor="middle" font-weight="bold" fill="#1a1a1a" textLength="15.57" lengthAdjust="spacingAndGlyphs">0.95</text>
<text x="555" y="154.98" font-size="9" text-anchor="middle" font-weight="bold" fill="#1a1a1a" textLength="12" lengthAdjust="spacingAndGlyphs">8th</text>
<text x="620.4" y="154.98" font-size="9" text-anchor="middle" font-weight="bold" fill="#1a1a1a" textLength="15.57" lengthAdjust="spacingAndGlyphs">0.95</text>
<text x="555" y="164.82" font-size="9" text-anchor="middle" font-weight="bold" fill="#1a1a1a" textLength="12" lengthAdjust="spacingAndGlyphs">9th</text>
<text x="620.4" y="164.82" font-size="9" text-anchor="middle" font-weight="bold" fill="#1a1a1a" textLength="15.57" lengthAdjust="spacingAndGlyphs">0.94</text>
<text x="555" y="174.68" font-size="9" text-anchor="middle" font-weight="bold" fill="#1a1a1a" textLength="16.45" lengthAdjust="spacingAndGlyphs">10th</text>
<text x="620.4" y="174.68" font-size="9" text-anchor="middle" font-weight="bold" fill="#1a1a1a" textLength="15.57" lengthAdjust="spacingAndGlyphs">0.94</text>
<g>
<polyline points="80.38,469.48 80.94,469.01 81.5,469.17 82.07,469.06 82.63,469.17 83.19,468.72 83.75,468.01 84.31,468.15 84.87,467.74 85.43,467.93 86,467.72 86.56,467.65 87.12,468.29 87.68,467.07 88.24,467.07 88.8,466.92 89.36,467.7 89.93,467.57 90.49,467.06 91.05,466.74 91.61,466.26 92.17,466.26 92.73,465.87 93.3,466.21 93.86,465.66 94.42,465.48 94.98,465.77 95.54,464.62 96.1,464.96 96.66,464.54 97.23,465.18 97.79,465.11 98.35,464.81 98.91,464.59 99.47,464.15 100.03,464.19 100.59,464.36 101.16,464.45 101.72,464.14 102.28,463.28 102.84,464.01 103.4,463.44 103.96,463.24 104.53,463.92 105.09,463.15 105.65,462.49 106.21,463.77 106.77,462.93 107.33,462.72 107.89,462.89 108.46,462.21 109.02,462.32 109.58,462.79 110.14,461.7 110.7,461.64 111.26,461.4 111.82,461 112.39,461.25 112.95,461.14 113.51,461.53 114.07,460.52 114.63,460.83 115.19,460.55 115.76,460.69 116.32,460.36 116.88,459.96 117.44,458.99 118,460.18 118.56,459.73 119.12,458.81 119.69,458.09 120.25,458.25 120.81,458.96 121.37,458.75 121.93,457.06 122.49,457.05 123.05,456.74 123.62,455.38 124.18,454.85 124.74,454.78 125.3,454.27 125.86,453.72 126.42,452.75 126.99,452.69 127.55,452.32 128.11,451.94 128.67,452.47 129.23,450.91 129.79,450.68 130.35,450.5 130.92,451.19 131.48,450.26 132.04,449.28 132.6,450.03 133.16,448.98 133.72,448.11 134.28,448.78 134.85,447.41 135.41,447.73 135.97,447.89 136.53,447.56 137.09,447.29 137.65,447.38 138.22,446.81 138.78,447.44 139.34,447.18 139.9,446.1 140.46,446.07 141.02,445.99 141.58,444.76 142.15,444.08 142.71,444.43 143.27,444.37 143.83,443.38 144.39,442.93 144.95,442.53 145.51,441.35 146.08,442.07 146.64,440.82 147.2,441.61 147.76,441.13 148.32,440.25 148.88,439.76 149.45,439.59 150.01,439.53 150.57,439.34 151.13,439.05 151.69,438.6 152.25,438.45 152.81,437.79 153.38,437.19 153.94,436.97 154.5,436.18 155.06,435.8 155.62,434.72 156.18,434.96 156.74,434.81 157.31,434.36 157.87,433.8 158.43,432.99 158.99,433.12 159.55,432.4 160.11,431.37 160.68,432.82 161.24,431.8 161.8,430.82 162.36,430.31 162.92,429.86 163.48,429.63 164.04,428.66 164.61,428.3 165.17,428.12 165.73,426.36 166.29,426.61 166.85,426.26 167.41,425.33 167.97,424.64 168.54,423.84 169.1,424.23 169.66,422.54 170.22,421.17 170.78,421.35 171.34,420.05 171.91,418.69 172.47,417.8 173.03,416.59 173.59,417.01 174.15,415.51 174.71,414.57 175.27,413.23 175.84,412.09 176.4,412.76 176.96,410.23 177.52,410.18 178.08,408.14 178.64,407.92 179.2,406.08 179.77,404.51 180.33,403.75 180.89,402.15 181.45,400.44 182.01,399.26 182.57,397.9 183.14,395.76 183.7,394.51 184.26,393.85 184.82,391.39 185.38,391.86 185.94,389.81 186.5,389.14 187.07,387.79 187.63,386.38 188.19,385.33 188.75,383.71 189.31,383.19 189.87,381.74 190.43,379.4 191,378.63 191.56,377.22 192.12,375.97 192.68,373.13 193.24,371.41 193.8,369.18 194.37,368.26 194.93,365.94 195.49,364.49 196.05,361.75 196.61,359.45 197.17,358.53 197.73,355.52 198.3,353.79 198.86,352.31 199.42,351.1 199.98,347.64 200.54,346.2 201.1,344.33 201.66,341.82 202.23,339.73 202.79,337.19 203.35,336.23 203.91,333.43 204.47,331.39 205.03,329.51 205.6,328.31 206.16,326.66 206.72,323.53 207.28,321.52 207.84,319.13 208.4,316.2 208.96,314.63 209.53,313.33 210.09,310.36 210.65,308.82 211.21,305.53 211.77,305.16 212.33,306.33 212.89,308.22 213.46,309.66 214.02,311.59 214.58,312.76 215.14,314.85 215.7,315.75 216.26,316.8 216.83,318.13 217.39,320.47 217.95,321.09 218.51,323.45 219.07,324.24 219.63,325.66 220.19,325.34 220.76,327.19 221.32,327.52 221.88,328.39 222.44,329.09 223,330.06 223.56,330.41 224.12,330.42 224.69,331.74 225.25,332.11 225.81,332.45 226.37,333.49 226.93,334.45 227.49,334.65 228.06,334.44 228.62,336.05 229.18,336.06 229.74,335.82 230.3,336.34 230.86,337.08 231.42,337.11 231.99,337.73 232.55,338.63 233.11,339.12 233.67,339.05 234.23,338.7 234.79,339.63 235.35,340.07 235.92,340.31 236.48,340.91 237.04,340.59 237.6,341.32 238.16,340.93 238.72,342.34 239.29,341.47 239.85,342.16 240.41,342.99 240.97,342.14 241.53,342.83 242.09,343.91 242.65,343.6 243.22,343.36 243.78,343.93 244.34,343.65 244.9,343.9 245.46,344.18 246.02,344.55 246.58,344.36 247.15,344.87 247.71,345.18 248.27,346.47 248.83,345.43 249.39,345.47 249.95,346.36 250.52,346.64 251.08,345.84 251.64,347.61 252.2,346.88 252.76,346.27 253.32,347.89 253.88,347.41 254.45,347.11 255.01,348.15 255.57,348.06 256.13,348.11 256.69,349.07 257.25,348.91 257.81,348.94 258.38,348.9 258.94,349.44 259.5,349.69 260.06,350.22 260.62,350.12 261.18,349.76 261.75,350.27 262.31,350.83 262.87,350.97 263.43,349.63 263.99,350.42 264.55,350.77 265.11,352.27 265.68,351.06 266.24,351.25 266.8,350.88 267.36,351.54 267.92,351.88 268.48,351.77 269.04,352.94 269.61,351.81 270.17,352.24 270.73,352.8 271.29,352.07 271.85,351.99 272.41,353.47 272.98,353.28 273.54,352.99 274.1,353.16 274.66,353.52 275.22,353.88 275.78,352.69 276.34,353.27 276.91,354.32 277.47,354.5 278.03,353.33 278.59,353.74 279.15,353.5 279.71,354.04 280.27,354.86 280.84,354.49 281.4,355.62 281.96,355.13 282.52,354.94 283.08,354.8 283.64,355.44 284.21,355.28 284.77,355.14 285.33,355.26 285.89,355.24 286.45,355.51 287.01,355.82 287.57,355.44 288.14,355.84 288.7,356.29 289.26,356.29 289.82,356.11 290.38,356.24 290.94,356.21 291.5,356.36 292.07,356.37 292.63,356.58 293.19,357.14 293.75,356.51 294.31,356.32 294.87,356.66 295.44,357 296,356.81 296.56,357.49 297.12,357.96 297.68,357.21 298.24,357.7 298.8,357.07 299.37,357.92 299.93,358.64 300.49,358.05 301.05,357.01 301.61,357.92 302.17,358.41 302.73,358.22 303.3,357.75 303.86,357.83 304.42,358.04 304.98,357.56 305.54,357.96 306.1,358.33 306.67,358.14 307.23,357.77 307.79,358.12 308.35,358.17 308.91,359.13 309.47,358.8 310.03,358.5 310.6,359 311.16,358.49 311.72,358.75 312.28,358.68" fill="none" stroke="#000000" stroke-width="2.8" stroke-linejoin="round" stroke-linecap="round"/>
<polyline points="112.89,468.73 113.45,467.67 114.01,468.09 114.58,468.57 115.14,468.4 115.7,467.44 116.26,468.45 116.82,467.95 117.38,467.86 117.95,468.16 118.51,468.53 119.07,467.98 119.63,467.87 120.19,467.53 120.75,467.61 121.31,467.83 121.88,467.47 122.44,467.53 123,467.6 123.56,467.6 124.12,467.65 124.68,467.26 125.24,467.84 125.81,467.63 126.37,467.34 126.93,467.82 127.49,467.39 128.05,467.89 128.61,467.31 129.18,466.76 129.74,466.66 130.3,466.78 130.86,466.75 131.42,467.08 131.98,465.8 132.54,466.18 133.11,465.87 133.67,466.48 134.23,466.13 134.79,466.62 135.35,465.58 135.91,465.42 136.47,466.35 137.04,465.58 137.6,465.23 138.16,466 138.72,465.92 139.28,465.55 139.84,465.29 140.41,465.41 140.97,464.72 141.53,464.46 142.09,464.15 142.65,463.95 143.21,463.48 143.77,463.43 144.34,464.15 144.9,463.68 145.46,463.71 146.02,463.54 146.58,463 147.14,462.79 147.7,462.44 148.27,463.02 148.83,462.71 149.39,462.1 149.95,461.99 150.51,461.85 151.07,461.58 151.64,461.66 152.2,460.95 152.76,460.9 153.32,460.86 153.88,460.84 154.44,460.42 155,461.11 155.57,460.25 156.13,459.64 156.69,459.96 157.25,459.11 157.81,458.89 158.37,459.21 158.93,458.57 159.5,458.36 160.06,457.84 160.62,457.55 161.18,457.55 161.74,457.61 162.3,457.12 162.87,456.85 163.43,456.33 163.99,456.25 164.55,456.38 165.11,456.38 165.67,455.79 166.23,455.68 166.8,455.58 167.36,454.88 167.92,454.65 168.48,454.06 169.04,453.54 169.6,453.51 170.16,452.15 170.73,452.74 171.29,451.85 171.85,451.84 172.41,451.11 172.97,452.01 173.53,451.05 174.1,450.32 174.66,449.82 175.22,448.82 175.78,449.18 176.34,448.47 176.9,448.28 177.46,447.85 178.03,447.64 178.59,447.49 179.15,446.76 179.71,446.85 180.27,445.55 180.83,445.86 181.39,444.91 181.96,443.75 182.52,444.11 183.08,443.56 183.64,442.69 184.2,442.65 184.76,442.5 185.33,441.67 185.89,441.1 186.45,440.61 187.01,440.69 187.57,439.33 188.13,438.91 188.69,439.06 189.26,438.37 189.82,437.88 190.38,436.48 190.94,436.5 191.5,435.27 192.06,434.94 192.62,434.28 193.19,433.03 193.75,432.07 194.31,431.83 194.87,431.38 195.43,430.16 195.99,429.78 196.56,428.97 197.12,427.84 197.68,427.3 198.24,427.21 198.8,425.51 199.36,425.66 199.92,424.72 200.49,424.58 201.05,423.71 201.61,423.67 202.17,421.74 202.73,421.23 203.29,421.51 203.85,420.83 204.42,419.8 204.98,417.71 205.54,417.22 206.1,416 206.66,415.01 207.22,413.87 207.79,413.14 208.35,411.66 208.91,411.35 209.47,410.04 210.03,409.09 210.59,408.22 211.15,407.66 211.72,408.33 212.28,408.71 212.84,409.56 213.4,409.33 213.96,410.06 214.52,410.77 215.08,411.32 215.65,411.81 216.21,412.27 216.77,412.4 217.33,412.49 217.89,412.7 218.45,412.96 219.02,412.66 219.58,413.92 220.14,413.81 220.7,412.92 221.26,414.72 221.82,414.33 222.38,414.18 222.95,414.28 223.51,414.28 224.07,414.6 224.63,414.46 225.19,414.66 225.75,414.48 226.31,415.52 226.88,415.22 227.44,414.97 228,415.41 228.56,415.48 229.12,414.94 229.68,415.47 230.25,415.06 230.81,415.08 231.37,415.3 231.93,415.28 232.49,415.55 233.05,416.08 233.61,415.63 234.18,415.51 234.74,415.91 235.3,415.8 235.86,415.54 236.42,416.18 236.98,415.67 237.54,415.27 238.11,416.19 238.67,415.98 239.23,416.14 239.79,415.58 240.35,416.07 240.91,415.91 241.48,416.53 242.04,416.33 242.6,416.37 243.16,417.06 243.72,415.94 244.28,416.18 244.84,417.18 245.41,416.32 245.97,416.68 246.53,416.51 247.09,416.58 247.65,417.29 248.21,416.86 248.77,416.28 249.34,417.07 249.9,417.27 250.46,417.43 251.02,417.41 251.58,416.89 252.14,416.43 252.71,416.92 253.27,417.02 253.83,416.34 254.39,417.37 254.95,417.45 255.51,417.04 256.07,417.03 256.64,417.6 257.2,417.66 257.76,417.13 258.32,417.14 258.88,417.71 259.44,417.31 260,417.43 260.57,417.07 261.13,417.28 261.69,417.26 262.25,417.36 262.81,416.85 263.37,416.73 263.94,417.37 264.5,416.93 265.06,417.51 265.62,417.21 266.18,416.96 266.74,416.68 267.3,417.37 267.87,417.26 268.43,417.16 268.99,417.78 269.55,417.23 270.11,417.48 270.67,417.1 271.23,417.64 271.8,417.95 272.36,417.22 272.92,417.14 273.48,417.43 274.04,416.91 274.6,417.33 275.17,417.45 275.73,417.1 276.29,417.93 276.85,417.68 277.41,417.53 277.97,417.29 278.53,417.74 279.1,417.65 279.66,418.08 280.22,417.81 280.78,417.39 281.34,418.32 281.9,417.29 282.46,418.45 283.03,418.29 283.59,418.31 284.15,418.07 284.71,418.97 285.27,419.35 285.83,418.44 286.4,418.45 286.96,418.58 287.52,417.92 288.08,418.87 288.64,418.92 289.2,418.72 289.76,418.94 290.33,418.48 290.89,419.55 291.45,419.25 292.01,420.38 292.57,418.86 293.13,419.3 293.69,418.85 294.26,418.42 294.82,419.21 295.38,419.32 295.94,419.42 296.5,419.56 297.06,419.5 297.63,419.06 298.19,419.29 298.75,419.29 299.31,419.39 299.87,419.02 300.43,419.18 300.99,419.43 301.56,419.15 302.12,419.46 302.68,419.83 303.24,418.9 303.8,419.28 304.36,419.81 304.92,419.08 305.49,419.36 306.05,420.07 306.61,418.93 307.17,419.41 307.73,419.22 308.29,419.48 308.86,419.62 309.42,420.14 309.98,419.24 310.54,419.6 311.1,419.72 311.66,419.5 312.22,419.62" fill="none" stroke="#008000" stroke-width="2.8" stroke-linejoin="round" stroke-linecap="round"/>
<polyline points="144.67,470.82 145.23,471.07 145.8,470.82 146.36,471.46 146.92,470.71 147.48,470.19 148.04,469.82 148.6,470.31 149.16,470.09 149.73,469.35 150.29,469.91 150.85,469.4 151.41,468.94 151.97,469.4 152.53,468.84 153.09,469.42 153.66,468.96 154.22,468.94 154.78,468.74 155.34,468.25 155.9,467.66 156.46,468.64 157.03,468.48 157.59,467.97 158.15,468.4 158.71,467.71 159.27,467.56 159.83,467.74 160.39,467.32 160.96,467.95 161.52,466.98 162.08,467.69 162.64,467.26 163.2,467.08 163.76,466.86 164.32,466.21 164.89,466.31 165.45,466.3 166.01,465.77 166.57,465.21 167.13,465.59 167.69,465.28 168.26,464.78 168.82,464.94 169.38,465.32 169.94,463.77 170.5,463.68 171.06,465.02 171.62,464.13 172.19,463.77 172.75,463.39 173.31,463.31 173.87,463.47 174.43,463.56 174.99,462.96 175.56,462.44 176.12,463.02 176.68,462.81 177.24,462.26 177.8,462.77 178.36,461.98 178.92,461.86 179.49,461.35 180.05,461.58 180.61,461.46 181.17,461.08 181.73,460.72 182.29,460.72 182.85,460.24 183.42,459.75 183.98,459.36 184.54,458.95 185.1,459.62 185.66,459.26 186.22,459.78 186.78,457.96 187.35,458.68 187.91,458.21 188.47,457.78 189.03,458.23 189.59,457.34 190.15,457.29 190.72,457.71 191.28,456.72 191.84,456.16 192.4,457.04 192.96,455.85 193.52,455.84 194.08,455.51 194.65,455.3 195.21,454.75 195.77,455.08 196.33,454.45 196.89,454.69 197.45,454.05 198.01,454.38 198.58,453.88 199.14,452.93 199.7,453.1 200.26,453.04 200.82,453.11 201.38,452.69 201.95,452.05 202.51,451.49 203.07,451.39 203.63,451.07 204.19,450.99 204.75,450.19 205.31,450.54 205.88,450.31 206.44,449.5 207,449.51 207.56,449.35 208.12,449.17 208.68,448.77 209.25,448.16 209.81,447.97 210.37,448.25 210.93,447.37 211.49,447.72 212.05,448.35 212.61,447.88 213.18,448.4 213.74,448.54 214.3,448.24 214.86,448.14 215.42,448.95 215.98,448.63 216.54,449.17 217.11,448.11 217.67,449.2 218.23,448.67 218.79,449.4 219.35,448.94 219.91,448.5 220.47,450.28 221.04,449.57 221.6,449.29 222.16,449.56 222.72,449.82 223.28,448.84 223.84,449.64 224.41,450.31 224.97,449.44 225.53,450.42 226.09,449.42 226.65,450.08 227.21,449.86 227.77,449.49 228.34,449.94 228.9,450.52 229.46,450.66 230.02,449.65 230.58,449.85 231.14,450.45 231.7,449.88 232.27,450.05 232.83,450.02 233.39,451.11 233.95,450.43 234.51,450.03 235.07,450.12 235.64,450.1 236.2,451.34 236.76,450.41 237.32,450.32 237.88,449.61 238.44,450.9 239,450.7 239.57,450.6 240.13,450.32 240.69,450.82 241.25,450.27 241.81,451 242.37,450.64 242.94,450.95 243.5,450.72 244.06,451.05 244.62,451.4 245.18,450.45 245.74,450.76 246.3,451.09 246.87,450.84 247.43,450.57 247.99,451.31 248.55,451.01 249.11,450.8 249.67,450.82 250.23,451.15 250.8,451.81 251.36,450.62 251.92,450.97 252.48,451.1 253.04,451.22 253.6,451.05 254.16,451.31 254.73,451.55 255.29,451.46 255.85,451.43 256.41,451.45 256.97,451.66 257.53,451.03 258.1,451.75 258.66,451.05 259.22,451.68 259.78,451.2 260.34,450.84 260.9,451.28 261.46,451.63 262.03,451.37 262.59,451.35 263.15,452.04 263.71,451.65 264.27,451.38 264.83,451.63 265.39,451.44 265.96,451.22 266.52,451.22 267.08,451.18 267.64,451.31 268.2,451.64 268.76,451.55 269.33,451.65 269.89,451.68 270.45,451.64 271.01,452.21 271.57,451.71 272.13,451.61 272.69,451.96 273.26,451.63 273.82,451.44 274.38,451.7 274.94,450.89 275.5,452.6 276.06,451.74 276.62,452.33 277.19,451.33 277.75,450.73 278.31,452.6 278.87,451.66 279.43,451.53 279.99,451.83 280.56,451.53 281.12,452.55 281.68,451.44 282.24,451.62 282.8,451.76 283.36,451.99 283.92,451.55 284.49,451.96 285.05,451.72 285.61,451.99 286.17,452.63 286.73,451.83 287.29,451.75 287.86,451.56 288.42,452.16 288.98,451.86 289.54,451.63 290.1,451.81 290.66,451.42 291.22,451.16 291.79,452.21 292.35,452.59 292.91,451.59 293.47,451.35 294.03,451.58 294.59,451.63 295.15,452.15 295.72,452.19 296.28,451.62 296.84,452.28 297.4,452.61 297.96,452.32 298.52,451.07 299.09,451.28 299.65,452.23 300.21,452.25 300.77,451.91 301.33,452.27 301.89,451.53 302.45,452.04 303.02,452.41 303.58,451.55 304.14,452.24 304.7,451.96 305.26,452.05 305.82,452.16 306.38,451.94 306.95,452.31 307.51,452.74 308.07,452.87 308.63,452.54 309.19,452.36 309.75,452.1 310.31,452.08 310.88,451.9 311.44,452.07 312,452.4" fill="none" stroke="#1f77a8" stroke-width="2.8" stroke-linejoin="round" stroke-linecap="round"/>
<polyline points="178.47,470.84 179.04,471.25 179.6,470.44 180.16,470.11 180.72,469.99 181.28,470.12 181.84,470.04 182.41,469.54 182.97,469.77 183.53,469.41 184.09,469.37 184.65,469.4 185.21,468.9 185.77,469.48 186.34,469.3 186.9,469.37 187.46,469.26 188.02,468.31 188.58,468.13 189.14,468.66 189.7,468.37 190.27,468.04 190.83,468.08 191.39,467.83 191.95,468.63 192.51,468.3 193.07,467.79 193.64,467.32 194.2,467.69 194.76,467.92 195.32,467.62 195.88,467.62 196.44,467.58 197,466.61 197.57,467.26 198.13,466.91 198.69,466.02 199.25,466.26 199.81,466.45 200.37,466.68 200.93,466.19 201.5,465.64 202.06,465.89 202.62,465.54 203.18,465.85 203.74,465.58 204.3,465.72 204.87,465.38 205.43,464.91 205.99,465.74 206.55,465.08 207.11,464.8 207.67,464.94 208.23,464.68 208.8,464.12 209.36,463.51 209.92,463.85 210.48,463.84 211.04,464.6 211.6,463.4 212.16,464.12 212.73,464.2 213.29,464.63 213.85,464.28 214.41,464.68 214.97,464.28 215.53,464.16 216.1,464.34 216.66,464.27 217.22,464.7 217.78,463.89 218.34,464.67 218.9,465.1 219.46,464.53 220.03,464.75 220.59,464.85 221.15,464.63 221.71,464.41 222.27,464.95 222.83,464.58 223.39,464.03 223.96,464.31 224.52,464.62 225.08,464.53 225.64,464.63 226.2,464.61 226.76,464.34 227.33,464.64 227.89,465.49 228.45,464.64 229.01,464.96 229.57,464.41 230.13,464.87 230.69,464.6 231.26,463.88 231.82,465.05 232.38,465.08 232.94,465.2 233.5,465.56 234.06,465.38 234.62,464.57 235.19,464.94 235.75,465.39 236.31,465.26 236.87,464.5 237.43,465.01 237.99,464.87 238.56,464.62 239.12,464.26 239.68,464.05 240.24,464.38 240.8,464.71 241.36,464.7 241.92,464.12 242.49,464.26 243.05,464.89 243.61,464.62 244.17,464.69 244.73,464.78 245.29,464.98 245.85,465.29 246.42,465 246.98,465.37 247.54,464.38 248.1,464.63 248.66,465.27 249.22,464.33 249.79,464.52 250.35,465.54 250.91,464.18 251.47,464.56 252.03,464.11 252.59,465.31 253.15,464.67 253.72,464.72 254.28,464.8 254.84,464.82 255.4,464.5 255.96,465.43 256.52,465.34 257.08,465.4 257.65,465.1 258.21,465.12 258.77,464.77 259.33,464.81 259.89,464.9 260.45,465.16 261.02,465.08 261.58,464.58 262.14,464.65 262.7,464.9 263.26,465.05 263.82,464.38 264.38,465.16 264.95,464.71 265.51,464.53 266.07,465.05 266.63,464.66 267.19,465.36 267.75,464.6 268.31,464.89 268.88,465.54 269.44,464.73 270,465.3 270.56,464.51 271.12,465.23 271.68,465.04 272.25,464.89 272.81,465.11 273.37,464.9 273.93,465.2 274.49,464.76 275.05,465 275.61,464.93 276.18,466.01 276.74,464.59 277.3,465 277.86,465.66 278.42,464.98 278.98,464.85 279.54,464.64 280.11,465.42 280.67,464.47 281.23,465.09 281.79,464.17 282.35,465.09 282.91,464.79 283.48,465.18 284.04,465.45 284.6,464.65 285.16,464.72 285.72,464.5 286.28,464.75 286.84,465.27 287.41,465.66 287.97,465.3 288.53,465.31 289.09,465.36 289.65,464.86 290.21,464.95 290.77,465.17 291.34,465.01 291.9,465.13 292.46,465 293.02,464.81 293.58,464.74 294.14,465.34 294.71,465.64 295.27,464.58 295.83,465.05 296.39,464.7 296.95,465.69 297.51,465.22 298.07,465.09 298.64,465.63 299.2,465.29 299.76,464.85 300.32,464.72 300.88,464.54 301.44,465.43 302,465.63 302.57,464.93 303.13,464.78 303.69,465.05 304.25,465.6 304.81,464.85 305.37,464.84 305.94,464.93 306.5,465.31 307.06,465.03 307.62,464.85 308.18,465.34 308.74,465.81 309.3,465.03 309.87,464.97 310.43,465.14 310.99,464.83 311.55,465.36 312.11,465.18" fill="none" stroke="#ff0000" stroke-width="2.8" stroke-linejoin="round" stroke-linecap="round"/>
</g>
<path d="M211.3,300.7 L312.2,300.7 L312.2,466 L309,469.2 L211.3,469.2" fill="none" stroke="#10109c" stroke-width="1.8" stroke-dasharray="7,6"/>
<path d="M211.3,300.7 L211.3,469.2" fill="none" stroke="#10109c" stroke-width="1.8" stroke-dasharray="7,6"/>
<text x="262.8" y="294.2" font-size="9.5" text-anchor="middle" font-weight="bold" fill="#000" stroke="#000" stroke-width="0.25">Relaxation</text>
<line x1="80.1" y1="485.7" x2="80.1" y2="480.5" stroke="#000" stroke-width="2.4"/>
<text x="80.1" y="503.2" font-size="16.5" text-anchor="middle" font-weight="bold" stroke="#000" stroke-width="0.35" textLength="8.76" lengthAdjust="spacingAndGlyphs">0</text>
<line x1="136.25" y1="485.7" x2="136.25" y2="480.5" stroke="#000" stroke-width="2.4"/>
<text x="136.25" y="503.2" font-size="16.5" text-anchor="middle" font-weight="bold" stroke="#000" stroke-width="0.35" textLength="26.29" lengthAdjust="spacingAndGlyphs">100</text>
<line x1="192.4" y1="485.7" x2="192.4" y2="480.5" stroke="#000" stroke-width="2.4"/>
<text x="192.4" y="503.2" font-size="16.5" text-anchor="middle" font-weight="bold" stroke="#000" stroke-width="0.35" textLength="26.29" lengthAdjust="spacingAndGlyphs">200</text>
<line x1="248.55" y1="485.7" x2="248.55" y2="480.5" stroke="#000" stroke-width="2.4"/>
<text x="248.55" y="503.2" font-size="16.5" text-anchor="middle" font-weight="bold" stroke="#000" stroke-width="0.35" textLength="26.29" lengthAdjust="spacingAndGlyphs">300</text>
<line x1="304.7" y1="485.7" x2="304.7" y2="480.5" stroke="#000" stroke-width="2.4"/>
<text x="304.7" y="503.2" font-size="16.5" text-anchor="middle" font-weight="bold" stroke="#000" stroke-width="0.35" textLength="26.29" lengthAdjust="spacingAndGlyphs">400</text>
<line x1="52.1" y1="473.6" x2="57.3" y2="473.6" stroke="#000" stroke-width="2.4"/>
<text x="47" y="478.6" font-size="16.5" text-anchor="end" font-weight="bold" stroke="#000" stroke-width="0.35" textLength="8.76" lengthAdjust="spacingAndGlyphs">0</text>
<line x1="52.1" y1="437.39" x2="57.3" y2="437.39" stroke="#000" stroke-width="2.4"/>
<text x="47" y="442.39" font-size="16.5" text-anchor="end" font-weight="bold" stroke="#000" stroke-width="0.35" textLength="17.53" lengthAdjust="spacingAndGlyphs">30</text>
<line x1="52.1" y1="401.18" x2="57.3" y2="401.18" stroke="#000" stroke-width="2.4"/>
<text x="47" y="406.18" font-size="16.5" text-anchor="end" font-weight="bold" stroke="#000" stroke-width="0.35" textLength="17.53" lengthAdjust="spacingAndGlyphs">60</text>
<line x1="52.1" y1="364.97" x2="57.3" y2="364.97" stroke="#000" stroke-width="2.4"/>
<text x="47" y="369.97" font-size="16.5" text-anchor="end" font-weight="bold" stroke="#000" stroke-width="0.35" textLength="17.53" lengthAdjust="spacingAndGlyphs">90</text>
<line x1="52.1" y1="328.76" x2="57.3" y2="328.76" stroke="#000" stroke-width="2.4"/>
<text x="47" y="333.76" font-size="16.5" text-anchor="end" font-weight="bold" stroke="#000" stroke-width="0.35" textLength="26.29" lengthAdjust="spacingAndGlyphs">120</text>
<line x1="52.1" y1="292.55" x2="57.3" y2="292.55" stroke="#000" stroke-width="2.4"/>
<text x="47" y="297.55" font-size="16.5" text-anchor="end" font-weight="bold" stroke="#000" stroke-width="0.35" textLength="26.29" lengthAdjust="spacingAndGlyphs">150</text>
<rect x="52.1" y="280.7" width="280.6" height="205" fill="none" stroke="#000" stroke-width="2.5"/>
<text x="192.5" y="522.7" font-size="15.7" text-anchor="middle" font-weight="bold" fill="#000" stroke="#000" stroke-width="0.3">Time (s)</text>
<text transform="translate(18,411.4) rotate(-90)" font-size="16.5" x="-1.2" y="0" font-weight="bold" stroke="#000" stroke-width="0.3">R</text>
<text transform="translate(18,411.4) rotate(-90)" font-size="16.5" x="16.9" y="0">(</text>
<text transform="translate(18,411.4) rotate(-90)" font-size="16.5" x="33.3" y="0">)</text>
<text transform="translate(18,411.4) rotate(-90) translate(27.3,0) scale(1.27,1)" font-size="13.3" text-anchor="middle" stroke="#000" stroke-width="0.2">&#937;</text>
<line x1="76" y1="300.6" x2="99" y2="300.6" stroke="#ff0000" stroke-width="2.3" stroke-linecap="round"/>
<text x="102.2" y="303.9" font-size="11.5" text-anchor="start" font-weight="bold" fill="#000">100%</text>
<line x1="76" y1="315.43" x2="99" y2="315.43" stroke="#1f77a8" stroke-width="2.3" stroke-linecap="round"/>
<text x="102.2" y="318.73" font-size="11.5" text-anchor="start" font-weight="bold" fill="#000">200%</text>
<line x1="76" y1="330.26" x2="99" y2="330.26" stroke="#008000" stroke-width="2.3" stroke-linecap="round"/>
<text x="102.2" y="333.56" font-size="11.5" text-anchor="start" font-weight="bold" fill="#000">300%</text>
<line x1="76" y1="345.09" x2="99" y2="345.09" stroke="#000000" stroke-width="2.3" stroke-linecap="round"/>
<text x="102.2" y="348.39" font-size="11.5" text-anchor="start" font-weight="bold" fill="#000">400%</text>
<g>
<polyline points="411.12,468.63 412.1,468.49 413.08,468.32 414.06,468.71 415.03,468.28 416.01,468.4 416.99,468.56 417.97,468.62 418.95,468.4 419.93,468.8 420.91,468.8 421.89,469 422.87,468.71 423.85,468.55 424.82,468.72 425.8,468.75 426.78,468.88 427.76,468.82 428.74,469.14 429.72,468.67 430.7,468.96 431.68,469.1 432.66,469.04 433.63,469.06 434.61,468.74 435.59,468.71 436.57,469.19 437.55,468.75 438.53,468.76 439.51,469.05 440.49,469.24 441.47,469.1 442.45,469.08 443.42,468.9 444.4,469.04 445.38,469.37 446.36,468.93 447.34,469.28 448.32,468.81 449.3,469.23 450.28,469.13 451.26,469.17 452.23,469.11 453.21,468.76 454.19,468.85 455.17,468.9 456.15,468.96 457.13,469.33 458.11,469.13 459.09,469.14 460.07,469.23 461.05,468.94 462.02,469.19 463,469.19 463.98,469.25 464.96,469.46 465.94,468.94 466.92,468.8 467.9,469.03 468.88,469.26 469.86,469.6 470.83,469.04 471.81,468.84 472.79,469.02 473.77,468.9 474.75,468.8 475.73,468.87 476.71,469.18 477.69,468.89 478.67,468.94 479.65,469.4 480.62,469.18 481.6,469.38 482.58,469.13 483.56,469 484.54,469.32 485.52,469.52 486.5,468.86 487.48,469.05 488.46,468.83 489.43,469.38 490.41,468.92 491.39,468.72 492.37,468.74 493.35,469.17 494.33,469.08 495.31,469.17 496.29,468.94 497.27,468.94 498.25,469.13 499.22,469.41 500.2,469 501.18,469.24 502.16,469.03 503.14,469.1 504.12,468.84 505.1,468.94 506.08,469.25 507.06,469.09 508.03,468.82 509.01,469.27 509.99,469.08 510.97,468.94 511.95,468.93 512.93,469.07 513.91,469.43 514.89,469.42 515.87,469.13 516.85,469.11 517.82,468.68 518.8,469.35 519.78,468.96 520.76,469.04 521.74,469.52 522.72,469.35 523.7,469.16 524.68,469.29 525.66,469.23 526.63,469.11 527.61,469.36 528.59,469.11 529.57,469.33 530.55,469.31 531.53,469.1 532.51,469.32 533.49,469.15 534.47,468.9 535.45,469.21 536.42,469.24 537.4,469.07 538.38,469.29 539.36,469.01 540.34,469.47 541.32,469.1 542.3,469.32 543.28,469.38 544.26,468.88 545.23,469.39 546.21,468.88 547.19,469.1 548.17,468.95 549.15,469.42 550.13,469 551.11,468.95 552.09,469.26 553.07,469.26 554.05,468.76 555.02,469.21 556,469.32 556.98,469.37 557.96,469.16 558.94,469.18 559.92,469.21 560.9,468.91 561.88,469.31 562.86,469.16 563.84,468.97 564.81,469.45 565.79,469.05 566.77,468.9 567.75,469.52 568.73,469.47 569.71,469.46 570.69,469.62 571.67,469.17 572.65,469.63 573.62,469.17 574.6,468.98 575.58,469.58 576.56,469.33 577.54,469.64 578.52,469.12 579.5,469.42 580.48,469.32 581.46,469.26 582.44,469.17 583.41,469.34 584.39,469.27 585.37,469.38 586.35,469.26 587.33,469.51 588.31,469.27 589.29,469.66 590.27,469.38 591.25,468.91 592.22,469.27 593.2,469.53 594.18,469.24 595.16,469.48 596.14,469.61 597.12,469.43 598.1,469.15 599.08,469.22 600.06,469.31 601.04,469.48 602.01,469.51 602.99,469.03 603.97,469.25 604.95,469.49 605.93,469.71 606.91,469.57 607.89,468.82 608.87,469.53 609.85,469.32 610.82,469.26 611.8,469.34 612.78,469.36 613.76,469.58 614.74,469.51 615.72,468.98 616.7,469.46 617.68,469.15 618.66,469.64 619.64,469.37 620.61,469.26 621.59,469.11 622.57,469.54 623.55,469.2 624.53,469.24 625.51,469.46 626.49,469.23 627.47,469.5 628.45,469.48 629.42,469.33 630.4,469.85 631.38,469.35 632.36,469.52 633.34,469.61 634.32,469.41 635.3,469.18 636.28,469.41 637.26,469.08 638.24,469.56 639.21,469.59 640.19,469.03 641.17,469.25 642.15,469.15 643.13,469.5 644.11,469.18 645.09,469.29 646.07,469.21 647.05,469.33 648.02,469.1 649,469.47 649.98,469.53 650.96,469.63 651.94,469.11 652.92,469.49 653.9,469.55 654.88,469.53 655.86,469.43 656.84,469.59 657.81,469.4 658.79,469.47 659.77,469.46 660.75,469.54" fill="none" stroke="#ea0f18" stroke-width="2.9" stroke-linejoin="round" stroke-linecap="round"/>
<polyline points="411.12,468.57 413.92,468.65 416.71,468.71 419.51,468.76 422.31,468.8 425.1,468.83 427.9,468.85 430.7,468.88 433.49,468.9 436.29,468.92 439.09,468.94 441.89,468.95 444.68,468.97 447.48,468.98 450.28,469 453.07,469.01 455.87,469.02 458.67,469.03 461.46,469.04 464.26,469.05 467.06,469.06 469.86,469.07 472.65,469.08 475.45,469.09 478.25,469.09 481.04,469.1 483.84,469.11 486.64,469.12 489.43,469.12 492.23,469.13 495.03,469.14 497.83,469.14 500.62,469.15 503.42,469.15 506.22,469.16 509.01,469.17 511.81,469.17 514.61,469.18 517.4,469.18 520.2,469.19 523,469.19 525.8,469.2 528.59,469.2 531.39,469.21 534.19,469.21 536.98,469.21 539.78,469.22 542.58,469.22 545.37,469.23 548.17,469.23 550.97,469.24 553.77,469.24 556.56,469.24 559.36,469.25 562.16,469.25 564.95,469.25 567.75,469.26 570.55,469.26 573.34,469.26 576.14,469.27 578.94,469.27 581.74,469.27 584.53,469.28 587.33,469.28 590.13,469.28 592.92,469.29 595.72,469.29 598.52,469.29 601.31,469.3 604.11,469.3 606.91,469.3 609.71,469.3 612.5,469.31 615.3,469.31 618.1,469.31 620.89,469.31 623.69,469.32 626.49,469.32 629.28,469.32 632.08,469.32 634.88,469.33 637.68,469.33 640.47,469.33 643.27,469.33 646.07,469.34 648.86,469.34 651.66,469.34 654.46,469.34 657.25,469.35 660.05,469.35" fill="none" stroke="#a00018" stroke-width="0.9" stroke-linejoin="round" stroke-linecap="round"/>
<polyline points="411.12,454.57 412.1,454.83 413.08,454.86 414.06,454.96 415.03,455.04 416.01,455.64 416.99,455.4 417.97,455.53 418.95,455.3 419.93,455.83 420.91,455.72 421.89,455.7 422.87,455.77 423.85,455.56 424.82,455.89 425.8,455.66 426.78,456.19 427.76,456.3 428.74,455.75 429.72,455.94 430.7,455.97 431.68,456.08 432.66,456.04 433.63,456.41 434.61,456.02 435.59,456.34 436.57,456.07 437.55,456.28 438.53,456.71 439.51,456.61 440.49,456.16 441.47,456.43 442.45,456.51 443.42,456.41 444.4,456.57 445.38,456.61 446.36,456.51 447.34,456.53 448.32,456.28 449.3,456.59 450.28,456.25 451.26,456.29 452.23,456.33 453.21,456.47 454.19,456.67 455.17,456.69 456.15,456.77 457.13,456.9 458.11,456.79 459.09,456.92 460.07,456.49 461.05,456.72 462.02,456.93 463,457.24 463.98,456.89 464.96,456.97 465.94,457.12 466.92,457.15 467.9,457.38 468.88,456.84 469.86,456.98 470.83,456.48 471.81,457 472.79,457.04 473.77,456.74 474.75,457.01 475.73,457.02 476.71,457.14 477.69,457.2 478.67,456.8 479.65,456.91 480.62,456.78 481.6,457.2 482.58,457.14 483.56,457.33 484.54,456.98 485.52,457.45 486.5,457.08 487.48,456.99 488.46,456.94 489.43,457.41 490.41,457.02 491.39,457.39 492.37,457.41 493.35,457.53 494.33,457.05 495.31,456.97 496.29,457.42 497.27,457.46 498.25,457.39 499.22,456.84 500.2,457.15 501.18,457.46 502.16,457.71 503.14,457.5 504.12,457.15 505.1,457.02 506.08,457.45 507.06,457.54 508.03,457.52 509.01,457.8 509.99,457.26 510.97,457.66 511.95,457.25 512.93,457.8 513.91,457.72 514.89,457.42 515.87,457.64 516.85,457.34 517.82,457.5 518.8,457.74 519.78,457.4 520.76,457.37 521.74,457.91 522.72,457.19 523.7,457.46 524.68,457.41 525.66,457.93 526.63,457.72 527.61,457.65 528.59,457.38 529.57,457.89 530.55,457.78 531.53,458.01 532.51,457.67 533.49,457.56 534.47,457.97 535.45,457.76 536.42,457.55 537.4,457.35 538.38,457.54 539.36,457.73 540.34,457.91 541.32,457.87 542.3,457.83 543.28,457.67 544.26,457.72 545.23,457.39 546.21,457.67 547.19,457.94 548.17,457.43 549.15,457.56 550.13,457.73 551.11,457.9 552.09,458.13 553.07,457.97 554.05,457.6 555.02,457.94 556,458.05 556.98,457.75 557.96,457.75 558.94,457.69 559.92,457.68 560.9,457.54 561.88,457.99 562.86,457.64 563.84,458.03 564.81,457.71 565.79,457.81 566.77,457.81 567.75,457.67 568.73,457.87 569.71,457.65 570.69,457.71 571.67,457.86 572.65,458 573.62,458.04 574.6,458 575.58,457.94 576.56,457.91 577.54,457.33 578.52,457.8 579.5,457.78 580.48,458.1 581.46,458.08 582.44,458 583.41,457.91 584.39,458.16 585.37,457.64 586.35,458.07 587.33,457.76 588.31,458.43 589.29,457.98 590.27,457.93 591.25,457.95 592.22,457.88 593.2,457.94 594.18,457.97 595.16,458.38 596.14,458.15 597.12,458.48 598.1,457.9 599.08,457.97 600.06,458.07 601.04,458.2 602.01,458.16 602.99,457.69 603.97,457.71 604.95,458.07 605.93,457.81 606.91,458.38 607.89,458.45 608.87,458.17 609.85,458.25 610.82,458.19 611.8,458.05 612.78,457.5 613.76,458.23 614.74,458.09 615.72,458.05 616.7,458.12 617.68,457.93 618.66,457.77 619.64,458.37 620.61,458.1 621.59,458.19 622.57,458.07 623.55,458.44 624.53,458.49 625.51,458.6 626.49,458.05 627.47,458.12 628.45,458.15 629.42,458.63 630.4,458.25 631.38,458.32 632.36,458.46 633.34,458.36 634.32,458.05 635.3,458.09 636.28,458.2 637.26,458.1 638.24,458.32 639.21,458.2 640.19,458.21 641.17,458.11 642.15,458.24 643.13,458.25 644.11,458.26 645.09,458.36 646.07,457.8 647.05,458.14 648.02,458.16 649,457.8 649.98,457.98 650.96,458.56 651.94,458.12 652.92,458.1 653.9,457.9 654.88,458.01 655.86,458.13 656.84,458.51 657.81,458.45 658.79,458.23 659.77,458.19 660.75,458.49" fill="none" stroke="#2f78aa" stroke-width="2.9" stroke-linejoin="round" stroke-linecap="round"/>
<polyline points="411.12,454.58 413.92,454.99 416.71,455.27 419.51,455.49 422.31,455.67 425.1,455.82 427.9,455.95 430.7,456.06 433.49,456.17 436.29,456.26 439.09,456.34 441.89,456.42 444.68,456.49 447.48,456.56 450.28,456.62 453.07,456.68 455.87,456.73 458.67,456.79 461.46,456.83 464.26,456.88 467.06,456.93 469.86,456.97 472.65,457.01 475.45,457.05 478.25,457.09 481.04,457.12 483.84,457.16 486.64,457.19 489.43,457.23 492.23,457.26 495.03,457.29 497.83,457.32 500.62,457.35 503.42,457.37 506.22,457.4 509.01,457.43 511.81,457.45 514.61,457.48 517.4,457.5 520.2,457.53 523,457.55 525.8,457.57 528.59,457.59 531.39,457.62 534.19,457.64 536.98,457.66 539.78,457.68 542.58,457.7 545.37,457.72 548.17,457.74 550.97,457.75 553.77,457.77 556.56,457.79 559.36,457.81 562.16,457.83 564.95,457.84 567.75,457.86 570.55,457.88 573.34,457.89 576.14,457.91 578.94,457.92 581.74,457.94 584.53,457.95 587.33,457.97 590.13,457.98 592.92,458 595.72,458.01 598.52,458.03 601.31,458.04 604.11,458.05 606.91,458.07 609.71,458.08 612.5,458.09 615.3,458.11 618.1,458.12 620.89,458.13 623.69,458.14 626.49,458.16 629.28,458.17 632.08,458.18 634.88,458.19 637.68,458.2 640.47,458.22 643.27,458.23 646.07,458.24 648.86,458.25 651.66,458.26 654.46,458.27 657.25,458.28 660.05,458.29" fill="none" stroke="#a04a6a" stroke-width="0.9" stroke-linejoin="round" stroke-linecap="round"/>
<polyline points="411.12,423.17 412.1,423.56 413.08,423.8 414.06,424.03 415.03,424.41 416.01,424.83 416.99,424.56 417.97,424.68 418.95,425.19 419.93,425.14 420.91,425.4 421.89,425.5 422.87,425.68 423.85,426.05 424.82,425.91 425.8,425.94 426.78,426.42 427.76,425.96 428.74,426.04 429.72,426.19 430.7,426.25 431.68,426.58 432.66,426.88 433.63,427.01 434.61,427.13 435.59,427.03 436.57,427.13 437.55,427.06 438.53,427.66 439.51,426.88 440.49,426.95 441.47,427.47 442.45,427.39 443.42,427.49 444.4,427.59 445.38,427.74 446.36,427.78 447.34,427.97 448.32,427.83 449.3,427.92 450.28,427.91 451.26,428.19 452.23,428.06 453.21,428.11 454.19,428.05 455.17,428.42 456.15,428.17 457.13,428.11 458.11,428.23 459.09,428.46 460.07,428.52 461.05,428.51 462.02,428.37 463,428.24 463.98,428.62 464.96,428.75 465.94,428.59 466.92,428.66 467.9,428.91 468.88,428.92 469.86,428.83 470.83,428.71 471.81,429.11 472.79,429.11 473.77,428.85 474.75,429.22 475.73,428.99 476.71,428.97 477.69,429.09 478.67,429.3 479.65,429.15 480.62,429.23 481.6,429.13 482.58,429.39 483.56,429.04 484.54,429.61 485.52,429.35 486.5,429.34 487.48,429.18 488.46,429.51 489.43,429.31 490.41,429.56 491.39,429.33 492.37,429.16 493.35,429.6 494.33,429.46 495.31,429.76 496.29,429.41 497.27,429.39 498.25,429.64 499.22,429.9 500.2,429.62 501.18,429.5 502.16,429.53 503.14,429.61 504.12,430.15 505.1,429.95 506.08,429.56 507.06,430.1 508.03,429.66 509.01,429.54 509.99,429.78 510.97,429.73 511.95,430.03 512.93,430.23 513.91,430.03 514.89,430.07 515.87,430.06 516.85,429.94 517.82,430.12 518.8,430.07 519.78,430.05 520.76,430.15 521.74,429.81 522.72,430.1 523.7,430.19 524.68,430.27 525.66,430.37 526.63,430 527.61,430.26 528.59,430.51 529.57,430.43 530.55,430.37 531.53,430.44 532.51,430.16 533.49,430.62 534.47,430.31 535.45,430.4 536.42,430.68 537.4,430.45 538.38,430.5 539.36,430.4 540.34,430.6 541.32,430.47 542.3,430.87 543.28,430.77 544.26,430.43 545.23,430.39 546.21,430.61 547.19,430.74 548.17,430.43 549.15,431.07 550.13,430.83 551.11,430.56 552.09,430.58 553.07,430.92 554.05,431.1 555.02,430.47 556,430.74 556.98,430.96 557.96,430.78 558.94,430.63 559.92,431.33 560.9,430.62 561.88,430.71 562.86,431.28 563.84,430.73 564.81,431.24 565.79,430.69 566.77,430.85 567.75,430.5 568.73,431.07 569.71,430.97 570.69,430.78 571.67,431.12 572.65,431.15 573.62,431.09 574.6,431.05 575.58,431.26 576.56,430.97 577.54,430.97 578.52,431.07 579.5,430.77 580.48,431.18 581.46,430.87 582.44,431.25 583.41,431 584.39,431.54 585.37,431.14 586.35,431.22 587.33,431.3 588.31,431.33 589.29,431.29 590.27,431.38 591.25,431.68 592.22,431.38 593.2,431.38 594.18,431.39 595.16,431.5 596.14,431.34 597.12,431.17 598.1,431.38 599.08,431.44 600.06,431.09 601.04,431.18 602.01,431.2 602.99,431.17 603.97,431.47 604.95,431.44 605.93,431.21 606.91,431.54 607.89,431.47 608.87,431.38 609.85,431.4 610.82,431.53 611.8,431.3 612.78,431.54 613.76,431.37 614.74,431.31 615.72,431.41 616.7,431.4 617.68,431.78 618.66,431.82 619.64,431.7 620.61,431.49 621.59,431.3 622.57,431.85 623.55,431.56 624.53,431.8 625.51,431.78 626.49,431.7 627.47,431.52 628.45,431.63 629.42,431.45 630.4,431.88 631.38,431.53 632.36,431.53 633.34,431.71 634.32,431.64 635.3,431.85 636.28,431.96 637.26,431.84 638.24,431.89 639.21,431.21 640.19,431.88 641.17,431.47 642.15,431.77 643.13,431.76 644.11,431.68 645.09,431.99 646.07,431.67 647.05,431.78 648.02,432.16 649,431.76 649.98,431.77 650.96,431.8 651.94,431.59 652.92,431.99 653.9,431.82 654.88,431.78 655.86,432.11 656.84,431.71 657.81,432.24 658.79,432.22 659.77,431.87 660.75,432.19" fill="none" stroke="#0e9c0e" stroke-width="2.9" stroke-linejoin="round" stroke-linecap="round"/>
<polyline points="411.12,423.09 413.92,424.06 416.71,424.74 419.51,425.27 422.31,425.69 425.1,426.05 427.9,426.36 430.7,426.64 433.49,426.88 436.29,427.1 439.09,427.3 441.89,427.49 444.68,427.66 447.48,427.82 450.28,427.97 453.07,428.11 455.87,428.24 458.67,428.37 461.46,428.49 464.26,428.6 467.06,428.71 469.86,428.81 472.65,428.91 475.45,429 478.25,429.09 481.04,429.18 483.84,429.26 486.64,429.34 489.43,429.42 492.23,429.5 495.03,429.57 497.83,429.64 500.62,429.71 503.42,429.78 506.22,429.84 509.01,429.9 511.81,429.97 514.61,430.03 517.4,430.08 520.2,430.14 523,430.2 525.8,430.25 528.59,430.3 531.39,430.35 534.19,430.41 536.98,430.45 539.78,430.5 542.58,430.55 545.37,430.6 548.17,430.64 550.97,430.69 553.77,430.73 556.56,430.77 559.36,430.82 562.16,430.86 564.95,430.9 567.75,430.94 570.55,430.98 573.34,431.02 576.14,431.05 578.94,431.09 581.74,431.13 584.53,431.17 587.33,431.2 590.13,431.24 592.92,431.27 595.72,431.3 598.52,431.34 601.31,431.37 604.11,431.4 606.91,431.44 609.71,431.47 612.5,431.5 615.3,431.53 618.1,431.56 620.89,431.59 623.69,431.62 626.49,431.65 629.28,431.68 632.08,431.71 634.88,431.74 637.68,431.76 640.47,431.79 643.27,431.82 646.07,431.84 648.86,431.87 651.66,431.9 654.46,431.92 657.25,431.95 660.05,431.97" fill="none" stroke="#0e9c0e" stroke-width="0.9" stroke-linejoin="round" stroke-linecap="round"/>
<polyline points="411.12,338.71 412.1,340.95 413.08,342.28 414.06,343.96 415.03,344.96 416.01,346.49 416.99,347.15 417.97,348.25 418.95,349.08 419.93,349.93 420.91,350.66 421.89,351.67 422.87,352.59 423.85,352.72 424.82,353.52 425.8,354 426.78,354.38 427.76,355.37 428.74,355.63 429.72,356.08 430.7,356.63 431.68,356.8 432.66,357.32 433.63,357.87 434.61,358.29 435.59,358.33 436.57,358.99 437.55,359.1 438.53,359.48 439.51,360.27 440.49,360.45 441.47,360.55 442.45,360.8 443.42,361.01 444.4,361.3 445.38,361.55 446.36,362.1 447.34,362.35 448.32,362.42 449.3,362.92 450.28,362.88 451.26,363.65 452.23,363.46 453.21,363.86 454.19,364.44 455.17,364.1 456.15,364.45 457.13,364.73 458.11,365.16 459.09,365.26 460.07,365.08 461.05,365.74 462.02,366.46 463,366.15 463.98,366.41 464.96,366.39 465.94,366.63 466.92,366.92 467.9,367.09 468.88,366.9 469.86,367.56 470.83,367.07 471.81,367.73 472.79,368.01 473.77,367.81 474.75,368.01 475.73,368.49 476.71,368.3 477.69,368.96 478.67,368.94 479.65,368.69 480.62,369.11 481.6,369.47 482.58,369.26 483.56,369.33 484.54,369.65 485.52,370.14 486.5,370 487.48,369.99 488.46,370.06 489.43,369.98 490.41,370.52 491.39,370.7 492.37,370.75 493.35,370.63 494.33,371.18 495.31,370.87 496.29,371.78 497.27,371.21 498.25,371.62 499.22,371.52 500.2,371.6 501.18,372.08 502.16,371.99 503.14,372.04 504.12,372.08 505.1,372.5 506.08,372.62 507.06,372.91 508.03,372.15 509.01,372.8 509.99,372.91 510.97,373.27 511.95,372.9 512.93,373.29 513.91,373.01 514.89,373.23 515.87,373.49 516.85,373.46 517.82,373.92 518.8,373.86 519.78,374.01 520.76,374.24 521.74,374.09 522.72,374.22 523.7,374 524.68,375.04 525.66,374.61 526.63,374.75 527.61,374.75 528.59,374.67 529.57,374.77 530.55,374.93 531.53,375.12 532.51,375.02 533.49,375.13 534.47,375.65 535.45,375.43 536.42,375.73 537.4,375.78 538.38,375.61 539.36,375.71 540.34,375.78 541.32,376.06 542.3,376.01 543.28,376.23 544.26,376.06 545.23,376.08 546.21,375.95 547.19,376.13 548.17,376.61 549.15,376.62 550.13,376.79 551.11,376.63 552.09,376.38 553.07,376.7 554.05,377.35 555.02,377.24 556,377.32 556.98,377.04 557.96,377.22 558.94,377.23 559.92,377.01 560.9,377.6 561.88,377.67 562.86,377.19 563.84,377.58 564.81,377.87 565.79,378.19 566.77,378.16 567.75,378.41 568.73,377.99 569.71,378.06 570.69,377.94 571.67,378.23 572.65,378.41 573.62,378.49 574.6,378.04 575.58,378.82 576.56,378.51 577.54,378.6 578.52,378.55 579.5,378.82 580.48,378.7 581.46,378.71 582.44,378.96 583.41,379.08 584.39,379.09 585.37,379.31 586.35,379.22 587.33,379.3 588.31,379.26 589.29,379.1 590.27,379.17 591.25,379.57 592.22,379.43 593.2,379.55 594.18,379.52 595.16,379.72 596.14,379.74 597.12,379.94 598.1,380.06 599.08,379.79 600.06,379.77 601.04,379.95 602.01,380.05 602.99,380.14 603.97,380.34 604.95,380.66 605.93,380.23 606.91,380.38 607.89,380.58 608.87,380.72 609.85,380.34 610.82,380.99 611.8,380.35 612.78,380.62 613.76,380.34 614.74,381 615.72,380.92 616.7,381.06 617.68,380.99 618.66,381.11 619.64,381.27 620.61,380.97 621.59,381.38 622.57,381.38 623.55,381.22 624.53,381.49 625.51,381.52 626.49,381.42 627.47,381.61 628.45,381.83 629.42,381.66 630.4,381.73 631.38,381.4 632.36,382 633.34,381.65 634.32,382.04 635.3,382.01 636.28,382.05 637.26,381.98 638.24,381.91 639.21,381.79 640.19,382.3 641.17,381.97 642.15,382.08 643.13,382.16 644.11,382.52 645.09,382.24 646.07,382.48 647.05,382.44 648.02,382.61 649,382.47 649.98,382.43 650.96,382.47 651.94,382.78 652.92,382.59 653.9,382.55 654.88,383.06 655.86,382.63 656.84,383.23 657.81,382.9 658.79,382.94 659.77,382.81 660.75,383.09" fill="none" stroke="#000000" stroke-width="2.9" stroke-linejoin="round" stroke-linecap="round"/>
<polyline points="411.12,338.69 413.92,343.55 416.71,346.95 419.51,349.57 422.31,351.7 425.1,353.5 427.9,355.06 430.7,356.42 433.49,357.65 436.29,358.75 439.09,359.76 441.89,360.69 444.68,361.54 447.48,362.34 450.28,363.09 453.07,363.79 455.87,364.45 458.67,365.07 461.46,365.67 464.26,366.23 467.06,366.77 469.86,367.28 472.65,367.77 475.45,368.24 478.25,368.69 481.04,369.13 483.84,369.55 486.64,369.95 489.43,370.34 492.23,370.72 495.03,371.09 497.83,371.44 500.62,371.78 503.42,372.12 506.22,372.44 509.01,372.76 511.81,373.06 514.61,373.36 517.4,373.66 520.2,373.94 523,374.22 525.8,374.49 528.59,374.75 531.39,375.01 534.19,375.26 536.98,375.51 539.78,375.75 542.58,375.99 545.37,376.22 548.17,376.45 550.97,376.68 553.77,376.89 556.56,377.11 559.36,377.32 562.16,377.53 564.95,377.73 567.75,377.93 570.55,378.13 573.34,378.32 576.14,378.51 578.94,378.7 581.74,378.88 584.53,379.06 587.33,379.24 590.13,379.42 592.92,379.59 595.72,379.76 598.52,379.93 601.31,380.1 604.11,380.26 606.91,380.42 609.71,380.58 612.5,380.73 615.3,380.89 618.1,381.04 620.89,381.19 623.69,381.34 626.49,381.49 629.28,381.63 632.08,381.77 634.88,381.91 637.68,382.05 640.47,382.19 643.27,382.33 646.07,382.46 648.86,382.6 651.66,382.73 654.46,382.86 657.25,382.99 660.05,383.11" fill="none" stroke="#101088" stroke-width="1.3" stroke-linejoin="round" stroke-linecap="round"/>
</g>
<line x1="410" y1="485.7" x2="410" y2="480.5" stroke="#000" stroke-width="2.4"/>
<text x="410" y="503.2" font-size="16.5" text-anchor="middle" font-weight="bold" stroke="#000" stroke-width="0.35" textLength="8.76" lengthAdjust="spacingAndGlyphs">0</text>
<line x1="451.95" y1="485.7" x2="451.95" y2="480.5" stroke="#000" stroke-width="2.4"/>
<text x="451.95" y="503.2" font-size="16.5" text-anchor="middle" font-weight="bold" stroke="#000" stroke-width="0.35" textLength="17.53" lengthAdjust="spacingAndGlyphs">30</text>
<line x1="493.91" y1="485.7" x2="493.91" y2="480.5" stroke="#000" stroke-width="2.4"/>
<text x="493.91" y="503.2" font-size="16.5" text-anchor="middle" font-weight="bold" stroke="#000" stroke-width="0.35" textLength="17.53" lengthAdjust="spacingAndGlyphs">60</text>
<line x1="535.87" y1="485.7" x2="535.87" y2="480.5" stroke="#000" stroke-width="2.4"/>
<text x="535.87" y="503.2" font-size="16.5" text-anchor="middle" font-weight="bold" stroke="#000" stroke-width="0.35" textLength="17.53" lengthAdjust="spacingAndGlyphs">90</text>
<line x1="577.82" y1="485.7" x2="577.82" y2="480.5" stroke="#000" stroke-width="2.4"/>
<text x="577.82" y="503.2" font-size="16.5" text-anchor="middle" font-weight="bold" stroke="#000" stroke-width="0.35" textLength="26.29" lengthAdjust="spacingAndGlyphs">120</text>
<line x1="619.77" y1="485.7" x2="619.77" y2="480.5" stroke="#000" stroke-width="2.4"/>
<text x="619.77" y="503.2" font-size="16.5" text-anchor="middle" font-weight="bold" stroke="#000" stroke-width="0.35" textLength="26.29" lengthAdjust="spacingAndGlyphs">150</text>
<line x1="661.73" y1="485.7" x2="661.73" y2="480.5" stroke="#000" stroke-width="2.4"/>
<text x="661.73" y="503.2" font-size="16.5" text-anchor="middle" font-weight="bold" stroke="#000" stroke-width="0.35" textLength="26.29" lengthAdjust="spacingAndGlyphs">180</text>
<line x1="396.2" y1="476" x2="401.4" y2="476" stroke="#000" stroke-width="2.4"/>
<text x="390.9" y="481" font-size="16.5" text-anchor="end" font-weight="bold" stroke="#000" stroke-width="0.35" textLength="8.76" lengthAdjust="spacingAndGlyphs">0</text>
<line x1="396.2" y1="446.66" x2="401.4" y2="446.66" stroke="#000" stroke-width="2.4"/>
<text x="390.9" y="451.66" font-size="16.5" text-anchor="end" font-weight="bold" stroke="#000" stroke-width="0.35" textLength="17.53" lengthAdjust="spacingAndGlyphs">30</text>
<line x1="396.2" y1="417.32" x2="401.4" y2="417.32" stroke="#000" stroke-width="2.4"/>
<text x="390.9" y="422.32" font-size="16.5" text-anchor="end" font-weight="bold" stroke="#000" stroke-width="0.35" textLength="17.53" lengthAdjust="spacingAndGlyphs">60</text>
<line x1="396.2" y1="387.98" x2="401.4" y2="387.98" stroke="#000" stroke-width="2.4"/>
<text x="390.9" y="392.98" font-size="16.5" text-anchor="end" font-weight="bold" stroke="#000" stroke-width="0.35" textLength="17.53" lengthAdjust="spacingAndGlyphs">90</text>
<line x1="396.2" y1="358.64" x2="401.4" y2="358.64" stroke="#000" stroke-width="2.4"/>
<text x="390.9" y="363.64" font-size="16.5" text-anchor="end" font-weight="bold" stroke="#000" stroke-width="0.35" textLength="26.29" lengthAdjust="spacingAndGlyphs">120</text>
<line x1="396.2" y1="329.3" x2="401.4" y2="329.3" stroke="#000" stroke-width="2.4"/>
<text x="390.9" y="334.3" font-size="16.5" text-anchor="end" font-weight="bold" stroke="#000" stroke-width="0.35" textLength="26.29" lengthAdjust="spacingAndGlyphs">150</text>
<line x1="396.2" y1="299.96" x2="401.4" y2="299.96" stroke="#000" stroke-width="2.4"/>
<text x="390.9" y="304.96" font-size="16.5" text-anchor="end" font-weight="bold" stroke="#000" stroke-width="0.35" textLength="26.29" lengthAdjust="spacingAndGlyphs">180</text>
<rect x="396.2" y="280.8" width="279.6" height="204.9" fill="none" stroke="#000" stroke-width="2.5"/>
<text x="536.2" y="522.7" font-size="15.7" text-anchor="middle" font-weight="bold" fill="#000" stroke="#000" stroke-width="0.3">Time (s)</text>
<text transform="translate(356.5,411.4) rotate(-90)" font-size="16.5" x="-1.2" y="0" font-weight="bold" stroke="#000" stroke-width="0.3">R</text>
<text transform="translate(356.5,411.4) rotate(-90)" font-size="16.5" x="16.9" y="0">(</text>
<text transform="translate(356.5,411.4) rotate(-90)" font-size="16.5" x="33.3" y="0">)</text>
<text transform="translate(356.5,411.4) rotate(-90) translate(27.3,0) scale(1.27,1)" font-size="13.3" text-anchor="middle" stroke="#000" stroke-width="0.2">&#937;</text>
<line x1="606.5" y1="298.7" x2="626.3" y2="298.7" stroke="#ff0000" stroke-width="2.4" stroke-linecap="round"/>
<text x="630" y="301.9" font-size="12.1" text-anchor="start" font-weight="bold" fill="#000">100%</text>
<line x1="606.5" y1="314.77" x2="626.3" y2="314.77" stroke="#1f77a8" stroke-width="2.4" stroke-linecap="round"/>
<text x="630" y="317.97" font-size="12.1" text-anchor="start" font-weight="bold" fill="#000">200%</text>
<line x1="606.5" y1="330.84" x2="626.3" y2="330.84" stroke="#008000" stroke-width="2.4" stroke-linecap="round"/>
<text x="630" y="334.04" font-size="12.1" text-anchor="start" font-weight="bold" fill="#000">300%</text>
<line x1="606.5" y1="346.91" x2="626.3" y2="346.91" stroke="#000000" stroke-width="2.4" stroke-linecap="round"/>
<text x="630" y="350.11" font-size="12.1" text-anchor="start" font-weight="bold" fill="#000">400%</text>
<rect x="409.6" y="290.5" width="155.60000000000002" height="34.80000000000001" fill="#fff"/>
<line x1="409.6" y1="302.3" x2="565.2" y2="302.3" stroke="#c8c8c8" stroke-width="0.9"/>
<line x1="409.6" y1="313.5" x2="565.2" y2="313.5" stroke="#c8c8c8" stroke-width="0.9"/>
<line x1="453.3" y1="290.5" x2="453.3" y2="325.3" stroke="#c8c8c8" stroke-width="0.9"/>
<line x1="481.6" y1="302.3" x2="481.6" y2="325.3" stroke="#c8c8c8" stroke-width="0.9"/>
<line x1="510.2" y1="302.3" x2="510.2" y2="325.3" stroke="#c8c8c8" stroke-width="0.9"/>
<line x1="538.7" y1="302.3" x2="538.7" y2="325.3" stroke="#c8c8c8" stroke-width="0.9"/>
<rect x="409.6" y="290.5" width="155.60000000000002" height="34.80000000000001" fill="none" stroke="#222" stroke-width="1.2"/>
<text x="431.45" y="299.5" font-size="8.6" text-anchor="middle" font-weight="bold" fill="#1a1a1a">Equation</text>
<text x="509.25" y="299.5" font-size="8.6" text-anchor="middle" font-weight="bold" fill="#1a1a1a">y = a - b*ln(x+c)</text>
<text x="431.45" y="310.8" font-size="8.6" text-anchor="middle" font-weight="bold" fill="#1a1a1a">Strain</text>
<text x="431.45" y="322.2" font-size="8.6" text-anchor="middle" font-weight="bold" fill="#1a1a1a">R-Square</text>
<text x="467.45" y="310.8" font-size="8.6" text-anchor="middle" font-weight="bold" fill="#1a1a1a">100%</text>
<text x="467.45" y="322.2" font-size="8.6" text-anchor="middle" font-weight="bold" fill="#1a1a1a">0.21</text>
<text x="495.9" y="310.8" font-size="8.6" text-anchor="middle" font-weight="bold" fill="#1a1a1a">200%</text>
<text x="495.9" y="322.2" font-size="8.6" text-anchor="middle" font-weight="bold" fill="#1a1a1a">0.93</text>
<text x="524.45" y="310.8" font-size="8.6" text-anchor="middle" font-weight="bold" fill="#1a1a1a">300%</text>
<text x="524.45" y="322.2" font-size="8.6" text-anchor="middle" font-weight="bold" fill="#1a1a1a">0.97</text>
<text x="551.95" y="310.8" font-size="8.6" text-anchor="middle" font-weight="bold" fill="#1a1a1a">400%</text>
<text x="551.95" y="322.2" font-size="8.6" text-anchor="middle" font-weight="bold" fill="#1a1a1a">0.99</text>
<text x="-0.3" y="20.9" font-size="30" font-weight="bold" textLength="15.2" lengthAdjust="spacingAndGlyphs">a</text>
<text x="346.2" y="21.4" font-size="30" text-anchor="start" font-weight="bold" fill="#000">b</text>
<text x="-0.9" y="288.9" font-size="30" text-anchor="start" font-weight="bold" fill="#000">c</text>
<text x="341.8" y="288.6" font-size="30" text-anchor="start" font-weight="bold" fill="#000">d</text>
</svg>
</body></html>
